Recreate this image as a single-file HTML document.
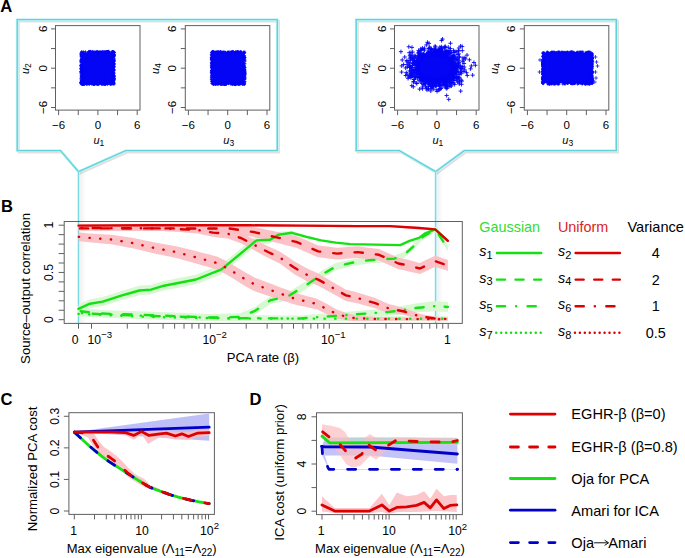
<!DOCTYPE html>
<html><head><meta charset="utf-8"><style>
html,body{margin:0;padding:0;background:#fff;}
svg{display:block;font-family:"Liberation Sans", sans-serif;}
</style></head><body>
<svg width="685" height="558" viewBox="0 0 685 558">
<defs><linearGradient id="shd" x1="0" x2="1" y1="0" y2="0"><stop offset="0" stop-color="#000" stop-opacity="0.065"/><stop offset="1" stop-color="#000" stop-opacity="0"/></linearGradient></defs>
<rect width="685" height="558" fill="#fff"/>
<text x="0.3" y="11.9" font-size="16.6" font-weight="bold" >A</text>
<text x="1" y="211.8" font-size="16.6" font-weight="bold" >B</text>
<text x="0.5" y="404.7" font-size="16.6" font-weight="bold" >C</text>
<text x="249.4" y="404.7" font-size="16.6" font-weight="bold" >D</text>
<path d="M17.2,19.6 H277.3 V150.6 H125.7 L78.5,171.7 L60.5,150.6 H17.2 Z" fill="none" stroke="#000" stroke-opacity="0.12" stroke-width="2.4" transform="translate(1.5,1.7)" stroke-linejoin="miter"/>
<path d="M17.2,19.6 H277.3 V150.6 H125.7 L78.5,171.7 L60.5,150.6 H17.2 Z" fill="none" stroke="#c8f4f7" stroke-width="2.8" stroke-linejoin="miter"/>
<path d="M17.2,19.6 H277.3 V150.6 H125.7 L78.5,171.7 L60.5,150.6 H17.2 Z" fill="none" stroke="#5fd2da" stroke-width="1.4" stroke-linejoin="miter"/>
<rect x="79.1" y="171.7" width="7" height="151.5" fill="url(#shd)"/>
<line x1="78.5" y1="171.7" x2="78.5" y2="323.2" stroke="#d0f5f8" stroke-width="2.4" />
<line x1="78.5" y1="171.7" x2="78.5" y2="323.2" stroke="#78d8e2" stroke-width="1.1" />
<rect x="55.5" y="25.6" width="84.5" height="84.5" fill="none" stroke="#606060" stroke-width="1"/>
<line x1="58.6" y1="110.1" x2="58.6" y2="115.1" stroke="#606060" stroke-width="1" />
<line x1="51" y1="107.5" x2="55.5" y2="107.5" stroke="#606060" stroke-width="1" />
<line x1="78.25" y1="110.1" x2="78.25" y2="115.1" stroke="#606060" stroke-width="1" />
<line x1="51" y1="87.85" x2="55.5" y2="87.85" stroke="#606060" stroke-width="1" />
<line x1="97.9" y1="110.1" x2="97.9" y2="115.1" stroke="#606060" stroke-width="1" />
<line x1="51" y1="68.2" x2="55.5" y2="68.2" stroke="#606060" stroke-width="1" />
<line x1="117.55" y1="110.1" x2="117.55" y2="115.1" stroke="#606060" stroke-width="1" />
<line x1="51" y1="48.55" x2="55.5" y2="48.55" stroke="#606060" stroke-width="1" />
<line x1="137.2" y1="110.1" x2="137.2" y2="115.1" stroke="#606060" stroke-width="1" />
<line x1="51" y1="28.9" x2="55.5" y2="28.9" stroke="#606060" stroke-width="1" />
<text x="58.6" y="128.5" font-size="11.5" text-anchor="middle" >&#8722;6</text>
<text transform="translate(46.6,107.5) rotate(-90)" font-size="11.5" text-anchor="middle" >&#8722;6</text>
<text x="97.9" y="128.5" font-size="11.5" text-anchor="middle" >0</text>
<text transform="translate(46.6,68.2) rotate(-90)" font-size="11.5" text-anchor="middle" >0</text>
<text x="137.2" y="128.5" font-size="11.5" text-anchor="middle" >6</text>
<text transform="translate(46.6,28.9) rotate(-90)" font-size="11.5" text-anchor="middle" >6</text>
<text x="98.9" y="143.5" font-size="11" font-style="italic" text-anchor="middle">u<tspan font-style="normal" font-size="8.5" dy="2.2">1</tspan></text>
<text transform="translate(29.1,68.7) rotate(-90)" font-size="11" font-style="italic" text-anchor="middle">u<tspan font-style="normal" font-size="8.5" dy="2.2">2</tspan></text>
<rect x="81.8" y="52.5" width="31.6" height="31" fill="#0505f5"/>
<path d="M79.67 82.33h3M81.17 80.83v3M82.16 52.04h3M83.66 50.54v3M80.29 70.65h3M81.79 69.15v3M81.02 83.92h3M82.52 82.42v3M87.65 52.06h3M89.15 50.56v3M106.76 51.55h3M108.26 50.05v3M100.36 84.1h3M101.86 82.6v3M98.61 51.88h3M100.11 50.38v3M81.32 84.43h3M82.82 82.93v3M79.85 65.41h3M81.35 63.91v3M80.02 69.93h3M81.52 68.43v3M98.76 52.17h3M100.26 50.67v3M80.05 55.12h3M81.55 53.62v3M99.98 52h3M101.48 50.5v3M112.36 76.87h3M113.86 75.37v3M112.1 63.57h3M113.6 62.07v3M102.59 83.69h3M104.09 82.19v3M80.25 68.81h3M81.75 67.31v3M112.98 61.21h3M114.48 59.71v3M96.49 51.6h3M97.99 50.1v3M79.79 56.86h3M81.29 55.36v3M111.16 51.49h3M112.66 49.99v3M79.62 62.88h3M81.12 61.38v3M112.35 70.56h3M113.85 69.06v3M110.6 51.97h3M112.1 50.47v3M81.78 52.24h3M83.28 50.74v3M112.26 61.11h3M113.76 59.61v3M79.75 52.72h3M81.25 51.22v3M99.72 83.99h3M101.22 82.49v3M104.84 83.56h3M106.34 82.06v3M92.77 84.5h3M94.27 83v3M112.34 54.58h3M113.84 53.08v3M80.18 80.27h3M81.68 78.77v3M80.38 74.6h3M81.88 73.1v3M111.98 82.65h3M113.48 81.15v3M84.73 84.19h3M86.23 82.69v3M95.61 52.11h3M97.11 50.61v3M79.37 61.02h3M80.87 59.52v3M79.58 71.51h3M81.08 70.01v3M102.31 84.02h3M103.81 82.52v3M94.69 52.45h3M96.19 50.95v3M112.27 64.74h3M113.77 63.24v3M111.87 72.3h3M113.37 70.8v3M111.9 51.93h3M113.4 50.43v3M90.89 51.46h3M92.39 49.96v3M98.28 52.04h3M99.78 50.54v3M79.28 71.64h3M80.78 70.14v3M99.82 83.58h3M101.32 82.08v3M79.92 82.57h3M81.42 81.07v3M112.82 55.93h3M114.32 54.43v3M112.17 67.37h3M113.67 65.87v3M83.13 83.81h3M84.63 82.31v3M80.03 67.32h3M81.53 65.82v3M86.49 52.54h3M87.99 51.04v3M79.85 56.69h3M81.35 55.19v3M104.52 51.76h3M106.02 50.26v3M102.5 51.71h3M104 50.21v3M79.63 81.06h3M81.13 79.56v3M97.16 84.33h3M98.66 82.83v3M79.94 72.37h3M81.44 70.87v3M106.08 84.38h3M107.58 82.88v3M86.32 83.99h3M87.82 82.49v3M112.06 52.35h3M113.56 50.85v3M112.63 60.29h3M114.13 58.79v3M80.32 66.31h3M81.82 64.81v3M79.64 82.56h3M81.14 81.06v3M83.13 83.96h3M84.63 82.46v3M79.95 58.54h3M81.45 57.04v3M95.43 52.18h3M96.93 50.68v3M107.01 51.54h3M108.51 50.04v3M112.7 77.03h3M114.2 75.53v3M112.32 80.45h3M113.82 78.95v3M80.34 54.78h3M81.84 53.28v3M112.69 66.82h3M114.19 65.32v3M103.43 51.6h3M104.93 50.1v3M80.7 84.11h3M82.2 82.61v3M111.98 77.81h3M113.48 76.31v3M112.22 73.03h3M113.72 71.53v3M80.5 84.36h3M82 82.86v3M96.97 52.52h3M98.47 51.02v3M112.03 83.57h3M113.53 82.07v3M80.71 83.66h3M82.21 82.16v3M104.7 83.79h3M106.2 82.29v3M111.87 78.69h3M113.37 77.19v3M79.99 80.73h3M81.49 79.23v3M112.85 78.47h3M114.35 76.97v3M97.14 84.03h3M98.64 82.53v3M108.25 52.33h3M109.75 50.83v3M105.1 51.58h3M106.6 50.08v3M95.24 84.27h3M96.74 82.77v3M90.43 52.02h3M91.93 50.52v3M111.93 77.1h3M113.43 75.6v3M87.9 51.73h3M89.4 50.23v3M96.35 52.07h3M97.85 50.57v3M94.25 52.14h3M95.75 50.64v3M102.38 83.94h3M103.88 82.44v3M112.1 68.25h3M113.6 66.75v3M80.27 81.53h3M81.77 80.03v3M107.18 83.56h3M108.68 82.06v3M92.59 51.78h3M94.09 50.28v3M93.76 83.66h3M95.26 82.16v3M80.28 77.09h3M81.78 75.59v3M110.43 84.17h3M111.93 82.67v3M80.26 56.58h3M81.76 55.08v3M112.94 59.03h3M114.44 57.53v3M112 80.32h3M113.5 78.82v3M85.06 83.92h3M86.56 82.42v3M112.03 62.85h3M113.53 61.35v3M79.64 54.95h3M81.14 53.45v3M79.73 69.73h3M81.23 68.23v3M92.33 52.02h3M93.83 50.52v3M79.28 68.39h3M80.78 66.89v3M111.48 83.53h3M112.98 82.03v3M80.29 60.7h3M81.79 59.2v3M88.62 83.56h3M90.12 82.06v3M112.61 79.19h3M114.11 77.69v3M79.84 64.99h3M81.34 63.49v3M111.91 74.41h3M113.41 72.91v3M105.87 51.62h3M107.37 50.12v3M88.57 51.42h3M90.07 49.92v3M105.93 51.5h3M107.43 50v3M81.97 84.44h3M83.47 82.94v3M112.99 52.37h3M114.49 50.87v3M112.12 81.65h3M113.62 80.15v3M81.21 84.25h3M82.71 82.75v3M111.4 51.71h3M112.9 50.21v3M86.38 83.77h3M87.88 82.27v3M79.45 68.99h3M80.95 67.49v3M112.01 68h3M113.51 66.5v3M80.39 77.72h3M81.89 76.22v3M80.3 52.28h3M81.8 50.78v3M96.56 83.69h3M98.06 82.19v3M112.78 55.4h3M114.28 53.9v3M112.46 73.01h3M113.96 71.51v3M112.17 83.05h3M113.67 81.55v3M111.83 83.81h3M113.33 82.31v3M92.99 83.82h3M94.49 82.32v3M107.09 51.42h3M108.59 49.92v3M79.27 65.78h3M80.77 64.28v3M112.6 79.86h3M114.1 78.36v3M80.03 71.16h3M81.53 69.66v3M94.78 51.59h3M96.28 50.09v3M112.24 52.12h3M113.74 50.62v3M79.86 83.12h3M81.36 81.62v3M80.92 84.46h3M82.42 82.96v3M91.42 83.4h3M92.92 81.9v3M112.13 54.68h3M113.63 53.18v3M87.89 84.33h3M89.39 82.83v3M88.41 51.51h3M89.91 50.01v3M112.27 70.78h3M113.77 69.28v3M79.48 61.74h3M80.98 60.24v3M101.24 84.26h3M102.74 82.76v3M112.66 76.46h3M114.16 74.96v3M112.67 56.78h3M114.17 55.28v3M81.23 84.4h3M82.73 82.9v3M112.77 75.48h3M114.27 73.98v3M109.46 84.3h3M110.96 82.8v3M106.74 52.1h3M108.24 50.6v3M82.57 83.45h3M84.07 81.95v3M79.65 82.7h3M81.15 81.2v3M112.55 69.87h3M114.05 68.37v3M95.75 83.4h3M97.25 81.9v3M104.19 52h3M105.69 50.5v3M101.29 51.48h3M102.79 49.98v3M111.89 60.07h3M113.39 58.57v3M80.11 59.51h3M81.61 58.01v3M103.92 84.57h3M105.42 83.07v3M111.89 79.06h3M113.39 77.56v3M79.94 76.54h3M81.44 75.04v3M82.33 83.58h3M83.83 82.08v3M80.03 72.85h3M81.53 71.35v3M80.21 83.47h3M81.71 81.97v3M79.32 83.12h3M80.82 81.62v3M101.83 83.75h3M103.33 82.25v3M79.76 66.87h3M81.26 65.37v3M112.18 52.06h3M113.68 50.56v3M80.32 83.3h3M81.82 81.8v3M89.24 51.49h3M90.74 49.99v3M112.26 83.81h3M113.76 82.31v3M82.23 83.51h3M83.73 82.01v3M79.36 82.49h3M80.86 80.99v3M80.04 80.38h3M81.54 78.88v3M96.03 84.45h3M97.53 82.95v3M111.8 52.79h3M113.3 51.29v3M112.29 73.81h3M113.79 72.31v3M93.37 83.85h3M94.87 82.35v3M107.19 51.4h3M108.69 49.9v3M79.34 78.85h3M80.84 77.35v3M103.04 84.48h3M104.54 82.98v3M79.28 60.1h3M80.78 58.6v3M112.51 83.96h3M114.01 82.46v3M80.11 81.61h3M81.61 80.11v3M88.95 51.46h3M90.45 49.96v3M79.38 72.32h3M80.88 70.82v3M79.58 65.96h3M81.08 64.46v3M79.71 77.12h3M81.21 75.62v3M106.27 52.16h3M107.77 50.66v3M103.26 83.46h3M104.76 81.96v3M112.7 66.43h3M114.2 64.93v3M80.29 67.54h3M81.79 66.04v3M85.37 83.9h3M86.87 82.4v3M80.09 61.53h3M81.59 60.03v3M79.49 65h3M80.99 63.5v3M112.27 69.83h3M113.77 68.33v3M100.77 83.49h3M102.27 81.99v3M112.34 69.61h3M113.84 68.11v3M79.74 83.89h3M81.24 82.39v3M97.66 83.69h3M99.16 82.19v3M90.95 83.51h3M92.45 82.01v3M91.81 84.37h3M93.31 82.87v3M108.72 84.3h3M110.22 82.8v3M112.7 64.25h3M114.2 62.75v3M92.09 83.81h3M93.59 82.31v3M96.04 52.09h3M97.54 50.59v3M79.8 56.03h3M81.3 54.53v3M82.82 84.48h3M84.32 82.98v3M112.34 64.79h3M113.84 63.29v3M80.25 79.16h3M81.75 77.66v3M83.95 51.91h3M85.45 50.41v3M112.39 82.99h3M113.89 81.49v3M92.56 52.51h3M94.06 51.01v3M112.1 83.11h3M113.6 81.61v3M87.1 51.58h3M88.6 50.08v3M110.49 52.27h3M111.99 50.77v3M112.73 54.72h3M114.23 53.22v3M105.3 51.68h3M106.8 50.18v3M100.84 51.76h3M102.34 50.26v3M100.22 84.03h3M101.72 82.53v3M111.93 74.35h3M113.43 72.85v3M89.59 52.53h3M91.09 51.03v3M92.45 83.67h3M93.95 82.17v3M80.14 51.76h3M81.64 50.26v3M112.18 60.92h3M113.68 59.42v3M95.29 83.68h3M96.79 82.18v3M80.75 83.89h3M82.25 82.39v3M79.43 53.77h3M80.93 52.27v3M112.07 54.59h3M113.57 53.09v3M112.07 81.61h3M113.57 80.11v3M102.48 52.26h3M103.98 50.76v3M79.44 73.84h3M80.94 72.34v3M79.81 75.65h3M81.31 74.15v3M95.96 83.64h3M97.46 82.14v3M87.32 83.67h3M88.82 82.17v3M79.95 55.49h3M81.45 53.99v3M109.03 83.98h3M110.53 82.48v3M110.73 51.58h3M112.23 50.08v3M111.83 53.74h3M113.33 52.24v3M93.34 84.25h3M94.84 82.75v3M92.62 84.48h3M94.12 82.98v3M80.4 75.45h3M81.9 73.95v3M90.53 83.62h3M92.03 82.12v3M112.6 53.02h3M114.1 51.52v3M112.98 78.85h3M114.48 77.35v3M111.8 57.42h3M113.3 55.92v3M79.7 54.58h3M81.2 53.08v3M98.09 52.31h3M99.59 50.81v3M112.79 63.41h3M114.29 61.91v3M112.65 54.81h3M114.15 53.31v3M91.95 84.5h3M93.45 83v3M90.34 84.28h3M91.84 82.78v3" stroke="#0505f5" stroke-width="0.9" fill="none"/>
<rect x="185.3" y="25.6" width="84.5" height="84.5" fill="none" stroke="#606060" stroke-width="1"/>
<line x1="188.4" y1="110.1" x2="188.4" y2="115.1" stroke="#606060" stroke-width="1" />
<line x1="180.8" y1="107.5" x2="185.3" y2="107.5" stroke="#606060" stroke-width="1" />
<line x1="208.05" y1="110.1" x2="208.05" y2="115.1" stroke="#606060" stroke-width="1" />
<line x1="180.8" y1="87.85" x2="185.3" y2="87.85" stroke="#606060" stroke-width="1" />
<line x1="227.7" y1="110.1" x2="227.7" y2="115.1" stroke="#606060" stroke-width="1" />
<line x1="180.8" y1="68.2" x2="185.3" y2="68.2" stroke="#606060" stroke-width="1" />
<line x1="247.35" y1="110.1" x2="247.35" y2="115.1" stroke="#606060" stroke-width="1" />
<line x1="180.8" y1="48.55" x2="185.3" y2="48.55" stroke="#606060" stroke-width="1" />
<line x1="267" y1="110.1" x2="267" y2="115.1" stroke="#606060" stroke-width="1" />
<line x1="180.8" y1="28.9" x2="185.3" y2="28.9" stroke="#606060" stroke-width="1" />
<text x="188.4" y="128.5" font-size="11.5" text-anchor="middle" >&#8722;6</text>
<text transform="translate(176.4,107.5) rotate(-90)" font-size="11.5" text-anchor="middle" >&#8722;6</text>
<text x="227.7" y="128.5" font-size="11.5" text-anchor="middle" >0</text>
<text transform="translate(176.4,68.2) rotate(-90)" font-size="11.5" text-anchor="middle" >0</text>
<text x="267" y="128.5" font-size="11.5" text-anchor="middle" >6</text>
<text transform="translate(176.4,28.9) rotate(-90)" font-size="11.5" text-anchor="middle" >6</text>
<text x="228.7" y="143.5" font-size="11" font-style="italic" text-anchor="middle">u<tspan font-style="normal" font-size="8.5" dy="2.2">3</tspan></text>
<text transform="translate(158.9,68.7) rotate(-90)" font-size="11" font-style="italic" text-anchor="middle">u<tspan font-style="normal" font-size="8.5" dy="2.2">4</tspan></text>
<rect x="212.4" y="52.6" width="31.6" height="30.9" fill="#0505f5"/>
<path d="M242.89 53.07h3M244.39 51.57v3M242.44 53.4h3M243.94 51.9v3M236.59 51.57h3M238.09 50.07v3M234.76 84.48h3M236.26 82.98v3M210.2 63.68h3M211.7 62.18v3M218.95 52.36h3M220.45 50.86v3M210.16 81.58h3M211.66 80.08v3M211.19 51.78h3M212.69 50.28v3M242.96 74.93h3M244.46 73.43v3M243.5 77.29h3M245 75.79v3M243 56.33h3M244.5 54.83v3M236.56 52.39h3M238.06 50.89v3M230.2 83.79h3M231.7 82.29v3M210.74 66.8h3M212.24 65.3v3M227.09 51.97h3M228.59 50.47v3M218.46 83.48h3M219.96 81.98v3M226.1 52.15h3M227.6 50.65v3M242.36 84.46h3M243.86 82.96v3M219.04 51.6h3M220.54 50.1v3M224.13 52.69h3M225.63 51.19v3M242.56 57.62h3M244.06 56.12v3M243.21 71.89h3M244.71 70.39v3M235.82 51.85h3M237.32 50.35v3M210.25 70.18h3M211.75 68.68v3M210.1 58.45h3M211.6 56.95v3M218.08 83.74h3M219.58 82.24v3M221.04 83.88h3M222.54 82.38v3M226.94 83.68h3M228.44 82.18v3M231.7 52.69h3M233.2 51.19v3M210.55 52.56h3M212.05 51.06v3M237.8 84.5h3M239.3 83v3M238.99 51.78h3M240.49 50.28v3M216.58 52.67h3M218.08 51.17v3M240.72 83.85h3M242.22 82.35v3M225.04 83.71h3M226.54 82.21v3M213.85 52.22h3M215.35 50.72v3M210.24 59.04h3M211.74 57.54v3M211.84 84.6h3M213.34 83.1v3M229.94 52.28h3M231.44 50.78v3M236.96 84.38h3M238.46 82.88v3M242.62 73.74h3M244.12 72.24v3M209.84 54.59h3M211.34 53.09v3M242.48 69.58h3M243.98 68.08v3M236.34 52.3h3M237.84 50.8v3M231.24 83.51h3M232.74 82.01v3M223.37 83.73h3M224.87 82.23v3M210.3 73.4h3M211.8 71.9v3M220.58 52.18h3M222.08 50.68v3M209.82 65.31h3M211.32 63.81v3M210.27 72.66h3M211.77 71.16v3M242.41 58.6h3M243.91 57.1v3M224.21 84.38h3M225.71 82.88v3M242.84 70.53h3M244.34 69.03v3M214.64 83.46h3M216.14 81.96v3M231.29 84.49h3M232.79 82.99v3M229.08 52.61h3M230.58 51.11v3M215.16 83.74h3M216.66 82.24v3M240.57 83.53h3M242.07 82.03v3M243.35 76.14h3M244.85 74.64v3M220.23 84.4h3M221.73 82.9v3M242.2 52.08h3M243.7 50.58v3M230.21 52.26h3M231.71 50.76v3M239.88 52.24h3M241.38 50.74v3M231.27 84.43h3M232.77 82.93v3M242.64 71.71h3M244.14 70.21v3M242.66 57.94h3M244.16 56.44v3M242.59 82.04h3M244.09 80.54v3M210.1 56.03h3M211.6 54.53v3M211.74 84.07h3M213.24 82.57v3M232.17 51.89h3M233.67 50.39v3M243.06 71.22h3M244.56 69.72v3M210.17 72.8h3M211.67 71.3v3M224.28 84.19h3M225.78 82.69v3M242.61 68.16h3M244.11 66.66v3M230.58 52.09h3M232.08 50.59v3M224.97 84.14h3M226.47 82.64v3M243.37 78.79h3M244.87 77.29v3M242.55 55.52h3M244.05 54.02v3M243.36 63.75h3M244.86 62.25v3M211.73 51.66h3M213.23 50.16v3M210.41 76.91h3M211.91 75.41v3M234.92 52.57h3M236.42 51.07v3M211.24 83.48h3M212.74 81.98v3M216.71 52.68h3M218.21 51.18v3M243.37 61.28h3M244.87 59.78v3M232.77 84.27h3M234.27 82.77v3M212.54 83.82h3M214.04 82.32v3M210.88 57.16h3M212.38 55.66v3M210.35 80.97h3M211.85 79.47v3M210.9 68.12h3M212.4 66.62v3M229.7 84.14h3M231.2 82.64v3M220.8 83.44h3M222.3 81.94v3M223.55 84.16h3M225.05 82.66v3M210.87 73.78h3M212.37 72.28v3M236.22 83.72h3M237.72 82.22v3M231.14 51.93h3M232.64 50.43v3M243.1 69.81h3M244.6 68.31v3M218.62 52.14h3M220.12 50.64v3M242.85 75.64h3M244.35 74.14v3M243.09 83.7h3M244.59 82.2v3M209.9 62.65h3M211.4 61.15v3M216.16 84.29h3M217.66 82.79v3M220.06 52.12h3M221.56 50.62v3M210.98 72.49h3M212.48 70.99v3M210.7 75.48h3M212.2 73.98v3M215.27 84.14h3M216.77 82.64v3M242.84 65.42h3M244.34 63.92v3M214.7 51.77h3M216.2 50.27v3M211.13 51.5h3M212.63 50v3M210.43 61.79h3M211.93 60.29v3M223.87 83.76h3M225.37 82.26v3M217.06 84.15h3M218.56 82.65v3M242.42 57.16h3M243.92 55.66v3M233.46 83.94h3M234.96 82.44v3M231.21 52.55h3M232.71 51.05v3M210.12 64.92h3M211.62 63.42v3M212.23 52.49h3M213.73 50.99v3M210.49 71.07h3M211.99 69.57v3M243.48 60.03h3M244.98 58.53v3M212.41 51.53h3M213.91 50.03v3M218.15 83.47h3M219.65 81.97v3M210.8 52.16h3M212.3 50.66v3M215.04 83.64h3M216.54 82.14v3M242.61 78.05h3M244.11 76.55v3M210.55 54.13h3M212.05 52.63v3M242.41 74.92h3M243.91 73.42v3M242.96 75.87h3M244.46 74.37v3M243.6 57.69h3M245.1 56.19v3M209.85 59.51h3M211.35 58.01v3M210.91 80.53h3M212.41 79.03v3M210.12 74.8h3M211.62 73.3v3M243.5 73.97h3M245 72.47v3M210.91 61.53h3M212.41 60.03v3M213.18 84.01h3M214.68 82.51v3M218.89 83.68h3M220.39 82.18v3M241.2 84.3h3M242.7 82.8v3M210.27 58.22h3M211.77 56.72v3M222.77 84.42h3M224.27 82.92v3M243.04 67.16h3M244.54 65.66v3M238.36 52.02h3M239.86 50.52v3M228.99 83.77h3M230.49 82.27v3M223.16 84.1h3M224.66 82.6v3M215.11 83.43h3M216.61 81.93v3M230.68 51.69h3M232.18 50.19v3M233.24 83.44h3M234.74 81.94v3M232.98 84.16h3M234.48 82.66v3M234.42 51.58h3M235.92 50.08v3M210.95 58.46h3M212.45 56.96v3M239.08 52.41h3M240.58 50.91v3M242.65 55.52h3M244.15 54.02v3M211.5 52.64h3M213 51.14v3M237.3 52.26h3M238.8 50.76v3M209.96 67.32h3M211.46 65.82v3M220 83.8h3M221.5 82.3v3M210.11 52.77h3M211.61 51.27v3M210.71 53.64h3M212.21 52.14v3M210.52 76.64h3M212.02 75.14v3M243.14 79.26h3M244.64 77.76v3M236.12 51.54h3M237.62 50.04v3M221.71 52.35h3M223.21 50.85v3M233.69 84.39h3M235.19 82.89v3M209.8 57.53h3M211.3 56.03v3M219.8 84.3h3M221.3 82.8v3M210.54 52.09h3M212.04 50.59v3M243.39 74.28h3M244.89 72.78v3M243.55 71h3M245.05 69.5v3M209.99 70.54h3M211.49 69.04v3M240.99 83.68h3M242.49 82.18v3M213.98 84.16h3M215.48 82.66v3M226.38 52.69h3M227.88 51.19v3M230.87 51.93h3M232.37 50.43v3M243.47 81.72h3M244.97 80.22v3M224.16 52.28h3M225.66 50.78v3M210.12 58.68h3M211.62 57.18v3M222.77 84.46h3M224.27 82.96v3M241.17 83.55h3M242.67 82.05v3M221.76 51.89h3M223.26 50.39v3M238.7 83.94h3M240.2 82.44v3M210.33 57.51h3M211.83 56.01v3M209.95 70.58h3M211.45 69.08v3M243.24 72.6h3M244.74 71.1v3M219.12 84.31h3M220.62 82.81v3M233.98 84.57h3M235.48 83.07v3M210.22 71.33h3M211.72 69.83v3M221.1 83.63h3M222.6 82.13v3M215.77 52.29h3M217.27 50.79v3M222.93 84.58h3M224.43 83.08v3M210.32 75.49h3M211.82 73.99v3M213.96 84.49h3M215.46 82.99v3M210.27 58.69h3M211.77 57.19v3M210.81 52.53h3M212.31 51.03v3M243 74.22h3M244.5 72.72v3M209.97 66.88h3M211.47 65.38v3M242.69 52.28h3M244.19 50.78v3M243.1 74.47h3M244.6 72.97v3M243.2 79.09h3M244.7 77.59v3M232.55 84.17h3M234.05 82.67v3M242.71 65.9h3M244.21 64.4v3M239.57 51.79h3M241.07 50.29v3M243.16 74.85h3M244.66 73.35v3M210.38 79.2h3M211.88 77.7v3M230.66 51.99h3M232.16 50.49v3M239.56 83.79h3M241.06 82.29v3M223.07 52.09h3M224.57 50.59v3M211.64 52.15h3M213.14 50.65v3M233.75 84.54h3M235.25 83.04v3M227.33 83.52h3M228.83 82.02v3M243.26 69.36h3M244.76 67.86v3M231.24 52.49h3M232.74 50.99v3M210.94 65.19h3M212.44 63.69v3M242.68 83.62h3M244.18 82.12v3M234.17 52.24h3M235.67 50.74v3M218.63 51.96h3M220.13 50.46v3M210.83 52h3M212.33 50.5v3M243.21 72.15h3M244.71 70.65v3M210.16 55.59h3M211.66 54.09v3M243.03 82.08h3M244.53 80.58v3M242.81 84.55h3M244.31 83.05v3M242.56 58.86h3M244.06 57.36v3M236.79 52.26h3M238.29 50.76v3M243.26 72.59h3M244.76 71.09v3M221.91 84.17h3M223.41 82.67v3M242.75 67.03h3M244.25 65.53v3M235.82 83.96h3M237.32 82.46v3M219.12 83.85h3M220.62 82.35v3M210.61 83.45h3M212.11 81.95v3M243.27 52.19h3M244.77 50.69v3M210.59 63.52h3M212.09 62.02v3M210.31 67.4h3M211.81 65.9v3M231.89 51.93h3M233.39 50.43v3M209.87 79.36h3M211.37 77.86v3M209.97 77.11h3M211.47 75.61v3M209.82 72.3h3M211.32 70.8v3M217.24 51.59h3M218.74 50.09v3M209.92 60.08h3M211.42 58.58v3M238.25 83.62h3M239.75 82.12v3M242.58 63.15h3M244.08 61.65v3M242.6 77.35h3M244.1 75.85v3M232.19 52.57h3M233.69 51.07v3M210.63 58.4h3M212.13 56.9v3M234.59 52.03h3M236.09 50.53v3M228.5 51.82h3M230 50.32v3M237.36 83.97h3M238.86 82.47v3M226.19 52.59h3M227.69 51.09v3M242.6 59.97h3M244.1 58.47v3M215.63 51.88h3M217.13 50.38v3M243.41 73.32h3M244.91 71.82v3M211 65.68h3M212.5 64.18v3M216.28 51.93h3M217.78 50.43v3M211.07 51.56h3M212.57 50.06v3M209.91 77.89h3M211.41 76.39v3M243.48 67.56h3M244.98 66.06v3M217.36 52h3M218.86 50.5v3M221.44 84.43h3M222.94 82.93v3M210.73 62.99h3M212.23 61.49v3M219.66 83.81h3M221.16 82.31v3M210.79 69.77h3M212.29 68.27v3M210.39 63.43h3M211.89 61.93v3M210.13 68.17h3M211.63 66.67v3M210.59 83.2h3M212.09 81.7v3" stroke="#0505f5" stroke-width="0.9" fill="none"/>
<path d="M356.2,19.6 H616.3 V150.6 H464.2 L435.6,171.7 L399.4,150.6 H356.2 Z" fill="none" stroke="#000" stroke-opacity="0.12" stroke-width="2.4" transform="translate(1.5,1.7)" stroke-linejoin="miter"/>
<path d="M356.2,19.6 H616.3 V150.6 H464.2 L435.6,171.7 L399.4,150.6 H356.2 Z" fill="none" stroke="#c8f4f7" stroke-width="2.8" stroke-linejoin="miter"/>
<path d="M356.2,19.6 H616.3 V150.6 H464.2 L435.6,171.7 L399.4,150.6 H356.2 Z" fill="none" stroke="#5fd2da" stroke-width="1.4" stroke-linejoin="miter"/>
<rect x="436.2" y="171.7" width="7" height="151.5" fill="url(#shd)"/>
<line x1="435.6" y1="171.7" x2="435.6" y2="323.2" stroke="#d0f5f8" stroke-width="2.4" />
<line x1="435.6" y1="171.7" x2="435.6" y2="323.2" stroke="#78d8e2" stroke-width="1.1" />
<rect x="394.5" y="25.6" width="84.5" height="84.5" fill="none" stroke="#606060" stroke-width="1"/>
<line x1="397.6" y1="110.1" x2="397.6" y2="115.1" stroke="#606060" stroke-width="1" />
<line x1="390" y1="107.5" x2="394.5" y2="107.5" stroke="#606060" stroke-width="1" />
<line x1="417.25" y1="110.1" x2="417.25" y2="115.1" stroke="#606060" stroke-width="1" />
<line x1="390" y1="87.85" x2="394.5" y2="87.85" stroke="#606060" stroke-width="1" />
<line x1="436.9" y1="110.1" x2="436.9" y2="115.1" stroke="#606060" stroke-width="1" />
<line x1="390" y1="68.2" x2="394.5" y2="68.2" stroke="#606060" stroke-width="1" />
<line x1="456.55" y1="110.1" x2="456.55" y2="115.1" stroke="#606060" stroke-width="1" />
<line x1="390" y1="48.55" x2="394.5" y2="48.55" stroke="#606060" stroke-width="1" />
<line x1="476.2" y1="110.1" x2="476.2" y2="115.1" stroke="#606060" stroke-width="1" />
<line x1="390" y1="28.9" x2="394.5" y2="28.9" stroke="#606060" stroke-width="1" />
<text x="397.6" y="128.5" font-size="11.5" text-anchor="middle" >&#8722;6</text>
<text transform="translate(385.6,107.5) rotate(-90)" font-size="11.5" text-anchor="middle" >&#8722;6</text>
<text x="436.9" y="128.5" font-size="11.5" text-anchor="middle" >0</text>
<text transform="translate(385.6,68.2) rotate(-90)" font-size="11.5" text-anchor="middle" >0</text>
<text x="476.2" y="128.5" font-size="11.5" text-anchor="middle" >6</text>
<text transform="translate(385.6,28.9) rotate(-90)" font-size="11.5" text-anchor="middle" >6</text>
<text x="437.9" y="143.5" font-size="11" font-style="italic" text-anchor="middle">u<tspan font-style="normal" font-size="8.5" dy="2.2">1</tspan></text>
<text transform="translate(368.1,68.7) rotate(-90)" font-size="11" font-style="italic" text-anchor="middle">u<tspan font-style="normal" font-size="8.5" dy="2.2">2</tspan></text>
<ellipse cx="435.5" cy="67" rx="19.5" ry="13.5" fill="#0505f5"/>
<path d="M429.38 49.36h4.2M431.48 47.26v4.2M442.79 85.03h4.2M444.89 82.93v4.2M439.42 48.7h4.2M441.52 46.6v4.2M421.2 57.5h4.2M423.3 55.4v4.2M419.35 59.6h4.2M421.45 57.5v4.2M437.31 79.4h4.2M439.41 77.3v4.2M414.9 70.82h4.2M417 68.72v4.2M452.38 70.42h4.2M454.48 68.32v4.2M419.12 78.74h4.2M421.22 76.64v4.2M448.52 77.65h4.2M450.62 75.55v4.2M410.87 58.22h4.2M412.97 56.12v4.2M462.77 57.78h4.2M464.87 55.68v4.2M451.3 68.53h4.2M453.4 66.43v4.2M434.29 80.97h4.2M436.39 78.87v4.2M436.09 53.56h4.2M438.19 51.46v4.2M444.65 56.03h4.2M446.75 53.93v4.2M450.91 63.96h4.2M453.01 61.86v4.2M421.23 54.13h4.2M423.33 52.03v4.2M439.54 46.83h4.2M441.64 44.73v4.2M450.78 64.82h4.2M452.88 62.72v4.2M408.91 52.39h4.2M411.01 50.29v4.2M449.7 57.52h4.2M451.8 55.42v4.2M415.61 58.8h4.2M417.71 56.7v4.2M443.71 53.38h4.2M445.81 51.28v4.2M430.11 83.6h4.2M432.21 81.5v4.2M439.42 54.76h4.2M441.52 52.66v4.2M433.43 47.07h4.2M435.53 44.97v4.2M433.54 51.77h4.2M435.64 49.67v4.2M440.16 53.13h4.2M442.26 51.03v4.2M452.15 56.21h4.2M454.25 54.11v4.2M470.57 75.14h4.2M472.67 73.04v4.2M420.04 55.79h4.2M422.14 53.69v4.2M456.02 65.96h4.2M458.12 63.86v4.2M431.97 81.91h4.2M434.07 79.81v4.2M408.96 76.34h4.2M411.06 74.24v4.2M435.66 51.2h4.2M437.76 49.1v4.2M456.84 60.85h4.2M458.94 58.75v4.2M449.17 85.84h4.2M451.27 83.74v4.2M418.81 81.88h4.2M420.91 79.78v4.2M451.18 57.75h4.2M453.28 55.65v4.2M452.39 71.4h4.2M454.49 69.3v4.2M429.31 54.99h4.2M431.41 52.89v4.2M445.03 78.39h4.2M447.13 76.29v4.2M443.98 77.13h4.2M446.08 75.03v4.2M451.3 68.08h4.2M453.4 65.98v4.2M454.16 60.04h4.2M456.26 57.94v4.2M452.98 59.85h4.2M455.08 57.75v4.2M422.16 80.53h4.2M424.26 78.43v4.2M450.15 71.75h4.2M452.25 69.65v4.2M430.54 83.31h4.2M432.64 81.21v4.2M473.31 65.28h4.2M475.41 63.18v4.2M427.5 84.75h4.2M429.6 82.65v4.2M450.42 71.89h4.2M452.52 69.79v4.2M424.94 89.96h4.2M427.04 87.86v4.2M453.79 68.57h4.2M455.89 66.47v4.2M454.75 67.2h4.2M456.85 65.1v4.2M410.52 74.5h4.2M412.62 72.4v4.2M435.68 53.55h4.2M437.78 51.45v4.2M427.98 51.84h4.2M430.08 49.74v4.2M450.21 72.6h4.2M452.31 70.5v4.2M418.26 74.51h4.2M420.36 72.41v4.2M452.78 72.35h4.2M454.88 70.25v4.2M422.33 81.21h4.2M424.43 79.11v4.2M458.09 68.83h4.2M460.19 66.73v4.2M410.73 69.55h4.2M412.83 67.45v4.2M428.81 51.55h4.2M430.91 49.45v4.2M452.96 51.7h4.2M455.06 49.6v4.2M462.72 69.92h4.2M464.82 67.82v4.2M447.79 74.59h4.2M449.89 72.49v4.2M415.98 65.08h4.2M418.08 62.98v4.2M451.61 77.45h4.2M453.71 75.35v4.2M416.6 60.7h4.2M418.7 58.6v4.2M444.23 80.81h4.2M446.33 78.71v4.2M414.42 74.88h4.2M416.52 72.78v4.2M451.66 61.63h4.2M453.76 59.53v4.2M453.67 65.17h4.2M455.77 63.07v4.2M451.12 58.77h4.2M453.22 56.67v4.2M405.13 64.64h4.2M407.23 62.54v4.2M452.53 84.47h4.2M454.63 82.37v4.2M437.82 47.06h4.2M439.92 44.96v4.2M419.62 55.37h4.2M421.72 53.27v4.2M450.96 55.13h4.2M453.06 53.03v4.2M431.72 79.89h4.2M433.82 77.79v4.2M408.03 75.54h4.2M410.13 73.44v4.2M409.96 54.99h4.2M412.06 52.89v4.2M412.69 62.28h4.2M414.79 60.18v4.2M419.88 80.67h4.2M421.98 78.57v4.2M454.3 74.1h4.2M456.4 72v4.2M437.84 88.5h4.2M439.94 86.4v4.2M445.72 54.09h4.2M447.82 51.99v4.2M415 65.43h4.2M417.1 63.33v4.2M432.59 52.49h4.2M434.69 50.39v4.2M413.83 69.34h4.2M415.93 67.24v4.2M426.94 48.56h4.2M429.04 46.46v4.2M449.33 79.48h4.2M451.43 77.38v4.2M452.64 67.4h4.2M454.74 65.3v4.2M416.2 74.42h4.2M418.3 72.32v4.2M415.92 70.6h4.2M418.02 68.5v4.2M424.71 80.6h4.2M426.81 78.5v4.2M455.03 77.15h4.2M457.13 75.05v4.2M423.66 81.81h4.2M425.76 79.71v4.2M448.41 48.53h4.2M450.51 46.43v4.2M407.99 67.32h4.2M410.09 65.22v4.2M454.66 51.77h4.2M456.76 49.67v4.2M406.71 46.78h4.2M408.81 44.68v4.2M420.42 88.68h4.2M422.52 86.58v4.2M451.82 78.67h4.2M453.92 76.57v4.2M425.68 52.18h4.2M427.78 50.08v4.2M457.01 65.9h4.2M459.11 63.8v4.2M426.11 82.57h4.2M428.21 80.47v4.2M443.95 79.1h4.2M446.05 77v4.2M452.73 68.16h4.2M454.83 66.06v4.2M425.49 79.23h4.2M427.59 77.13v4.2M458.53 72.42h4.2M460.63 70.32v4.2M450.13 57.61h4.2M452.23 55.51v4.2M419.55 75.74h4.2M421.65 73.64v4.2M445.1 88.15h4.2M447.2 86.05v4.2M430.76 83.2h4.2M432.86 81.1v4.2M443.94 53.68h4.2M446.04 51.58v4.2M445.43 76.87h4.2M447.53 74.77v4.2M431.76 85.4h4.2M433.86 83.3v4.2M438.75 83.97h4.2M440.85 81.87v4.2M413.08 77.74h4.2M415.18 75.64v4.2M437.06 49.41h4.2M439.16 47.31v4.2M426.26 55.53h4.2M428.36 53.43v4.2M423.93 55.79h4.2M426.03 53.69v4.2M433.62 83.66h4.2M435.72 81.56v4.2M449.09 59.7h4.2M451.19 57.6v4.2M427.38 78.38h4.2M429.48 76.28v4.2M442.64 81.87h4.2M444.74 79.77v4.2M417.17 61.17h4.2M419.27 59.07v4.2M454.82 67.1h4.2M456.92 65v4.2M454.77 71.5h4.2M456.87 69.4v4.2M449.55 59.68h4.2M451.65 57.58v4.2M448.32 73.82h4.2M450.42 71.72v4.2M418.68 75.84h4.2M420.78 73.74v4.2M456.48 78.14h4.2M458.58 76.04v4.2M410.24 76.12h4.2M412.34 74.02v4.2M426.76 53.85h4.2M428.86 51.75v4.2M407.54 65.53h4.2M409.64 63.43v4.2M446.71 77.47h4.2M448.81 75.37v4.2M450.34 70.63h4.2M452.44 68.53v4.2M404.82 60.47h4.2M406.92 58.37v4.2M444.98 77.19h4.2M447.08 75.09v4.2M408.48 73.82h4.2M410.58 71.72v4.2M414.71 70.54h4.2M416.81 68.44v4.2M468.49 68.82h4.2M470.59 66.72v4.2M426.91 43.42h4.2M429.01 41.32v4.2M458.73 68.01h4.2M460.83 65.91v4.2M436.71 50.74h4.2M438.81 48.64v4.2M419.27 54.32h4.2M421.37 52.22v4.2M437.99 51.18h4.2M440.09 49.08v4.2M441.84 81.73h4.2M443.94 79.63v4.2M418.91 55.52h4.2M421.01 53.42v4.2M426.64 49.05h4.2M428.74 46.95v4.2M448.5 73.34h4.2M450.6 71.24v4.2M439.98 79.84h4.2M442.08 77.74v4.2M455.06 67.29h4.2M457.16 65.19v4.2M445.61 55.07h4.2M447.71 52.97v4.2M444.65 50.47h4.2M446.75 48.37v4.2M404.21 72.63h4.2M406.31 70.53v4.2M452.41 57.65h4.2M454.51 55.55v4.2M461.9 63.48h4.2M464 61.38v4.2M418.35 56.26h4.2M420.45 54.16v4.2M408.22 57.82h4.2M410.32 55.72v4.2M439.78 79.01h4.2M441.88 76.91v4.2M443.44 83.37h4.2M445.54 81.27v4.2M429.21 52.89h4.2M431.31 50.79v4.2M459.37 84.34h4.2M461.47 82.24v4.2M447.02 86.21h4.2M449.12 84.11v4.2M415.39 61.27h4.2M417.49 59.17v4.2M446.16 78.27h4.2M448.26 76.17v4.2M427.93 79.83h4.2M430.03 77.73v4.2M412.24 75.08h4.2M414.34 72.98v4.2M416.81 54.97h4.2M418.91 52.87v4.2M410.11 59.6h4.2M412.21 57.5v4.2M434.86 54.06h4.2M436.96 51.96v4.2M420.5 77.07h4.2M422.6 74.97v4.2M450.52 62.59h4.2M452.62 60.49v4.2M413.03 72.39h4.2M415.13 70.29v4.2M447.62 80.82h4.2M449.72 78.72v4.2M443.25 47.42h4.2M445.35 45.32v4.2M447.57 55.95h4.2M449.67 53.85v4.2M440.49 55.2h4.2M442.59 53.1v4.2M445.29 80.93h4.2M447.39 78.83v4.2M415.4 77.85h4.2M417.5 75.75v4.2M443.66 77.17h4.2M445.76 75.07v4.2M467.32 59.84h4.2M469.42 57.74v4.2M436.4 49.7h4.2M438.5 47.6v4.2M435.83 54.96h4.2M437.93 52.86v4.2M429.43 82.02h4.2M431.53 79.92v4.2M452.02 52.44h4.2M454.12 50.34v4.2M434.95 52.94h4.2M437.05 50.84v4.2M426.86 79.93h4.2M428.96 77.83v4.2M408.16 60.59h4.2M410.26 58.49v4.2M419.69 83.34h4.2M421.79 81.24v4.2M409.31 68.79h4.2M411.41 66.69v4.2M431.4 80.34h4.2M433.5 78.24v4.2M439.44 80.22h4.2M441.54 78.12v4.2M451.47 74.48h4.2M453.57 72.38v4.2M410.95 62.96h4.2M413.05 60.86v4.2M417.08 52.01h4.2M419.18 49.91v4.2M433.33 54.56h4.2M435.43 52.46v4.2M419.29 74.27h4.2M421.39 72.17v4.2M459.04 68.67h4.2M461.14 66.57v4.2M402.62 57.01h4.2M404.72 54.91v4.2M445.45 78.47h4.2M447.55 76.37v4.2M450.91 75.44h4.2M453.01 73.34v4.2M424.37 79.35h4.2M426.47 77.25v4.2M432.52 80.54h4.2M434.62 78.44v4.2M435.03 52.18h4.2M437.13 50.08v4.2M426.33 80.79h4.2M428.43 78.69v4.2M422.48 54.71h4.2M424.58 52.61v4.2M411.24 86.75h4.2M413.34 84.65v4.2M436 81.32h4.2M438.1 79.22v4.2M444.53 85.54h4.2M446.63 83.44v4.2M441.54 79.63h4.2M443.64 77.53v4.2M452.68 69.71h4.2M454.78 67.61v4.2M434.9 91.41h4.2M437 89.31v4.2M422.08 79.81h4.2M424.18 77.71v4.2M457.17 56.92h4.2M459.27 54.82v4.2M438.93 80.89h4.2M441.03 78.79v4.2M448.27 53.85h4.2M450.37 51.75v4.2M431.36 81.27h4.2M433.46 79.17v4.2M437.6 50.14h4.2M439.7 48.04v4.2M442.71 82.65h4.2M444.81 80.55v4.2M441.77 78.37h4.2M443.87 76.27v4.2M449.04 60.31h4.2M451.14 58.21v4.2M456.65 50.79h4.2M458.75 48.69v4.2M437.92 54.31h4.2M440.02 52.21v4.2M408.09 67.45h4.2M410.19 65.35v4.2M456.33 63.39h4.2M458.43 61.29v4.2M416.91 63.02h4.2M419.01 60.92v4.2M456.26 65.06h4.2M458.36 62.96v4.2M458.59 91.1h4.2M460.69 89v4.2M449.61 78.04h4.2M451.71 75.94v4.2M438.63 48.62h4.2M440.73 46.52v4.2M449.96 71.05h4.2M452.06 68.95v4.2M426.06 78.07h4.2M428.16 75.97v4.2M432.87 50.15h4.2M434.97 48.05v4.2M420.6 56.69h4.2M422.7 54.59v4.2M420.49 76.36h4.2M422.59 74.26v4.2M420.5 58.58h4.2M422.6 56.48v4.2M449.63 82.34h4.2M451.73 80.24v4.2M413 64.29h4.2M415.1 62.19v4.2M419.95 54.54h4.2M422.05 52.44v4.2M451.28 56.31h4.2M453.38 54.21v4.2M443.69 53.2h4.2M445.79 51.1v4.2M420.75 79.15h4.2M422.85 77.05v4.2M439.09 53.16h4.2M441.19 51.06v4.2M443.44 77.5h4.2M445.54 75.4v4.2M441.22 79.33h4.2M443.32 77.23v4.2M434.5 83.28h4.2M436.6 81.18v4.2M415.66 74.08h4.2M417.76 71.98v4.2M421.42 77.06h4.2M423.52 74.96v4.2M421.09 54.41h4.2M423.19 52.31v4.2M410.77 57.71h4.2M412.87 55.61v4.2M444.21 88.4h4.2M446.31 86.3v4.2M450.53 73.21h4.2M452.63 71.11v4.2M409.09 67.4h4.2M411.19 65.3v4.2M412.39 70.87h4.2M414.49 68.77v4.2M441.01 55.57h4.2M443.11 53.47v4.2M415.15 62.11h4.2M417.25 60.01v4.2M449.47 74.58h4.2M451.57 72.48v4.2M425.92 54.7h4.2M428.02 52.6v4.2M398.84 51.68h4.2M400.94 49.58v4.2M442.74 51.08h4.2M444.84 48.98v4.2M432.69 84.01h4.2M434.79 81.91v4.2M425.78 83.27h4.2M427.88 81.17v4.2M440.54 50.95h4.2M442.64 48.85v4.2M419.89 78.55h4.2M421.99 76.45v4.2M441.2 85.36h4.2M443.3 83.26v4.2M428.41 51.98h4.2M430.51 49.88v4.2M454.86 72.19h4.2M456.96 70.09v4.2M444.25 84.6h4.2M446.35 82.5v4.2M414.58 61.22h4.2M416.68 59.12v4.2M438.63 82.93h4.2M440.73 80.83v4.2M448.79 82.25h4.2M450.89 80.15v4.2M449.75 75.48h4.2M451.85 73.38v4.2M447.68 59.7h4.2M449.78 57.6v4.2M447.53 82.61h4.2M449.63 80.51v4.2M423.63 81.73h4.2M425.73 79.63v4.2M445.11 79.58h4.2M447.21 77.48v4.2M415.61 70.07h4.2M417.71 67.97v4.2M449.37 77.63h4.2M451.47 75.53v4.2M451.83 80.53h4.2M453.93 78.43v4.2M460.15 66.5h4.2M462.25 64.4v4.2M422.53 78.7h4.2M424.63 76.6v4.2M407.36 67.43h4.2M409.46 65.33v4.2M450.49 56.66h4.2M452.59 54.56v4.2M437.07 86.35h4.2M439.17 84.25v4.2M421.63 75.99h4.2M423.73 73.89v4.2M445.99 52.37h4.2M448.09 50.27v4.2M452.69 76.85h4.2M454.79 74.75v4.2M427.21 84.46h4.2M429.31 82.36v4.2M437.18 53.76h4.2M439.28 51.66v4.2M407.21 52.68h4.2M409.31 50.58v4.2M425.99 52.25h4.2M428.09 50.15v4.2M422.13 80.13h4.2M424.23 78.03v4.2M408.68 71.61h4.2M410.78 69.51v4.2M460.17 68.38h4.2M462.27 66.28v4.2M431.66 54.11h4.2M433.76 52.01v4.2M471.82 62.55h4.2M473.92 60.45v4.2M413.76 67.25h4.2M415.86 65.15v4.2M449.2 59.17h4.2M451.3 57.07v4.2M417.97 55.23h4.2M420.07 53.13v4.2M448.78 86.03h4.2M450.88 83.93v4.2M424.67 54.42h4.2M426.77 52.32v4.2M447.44 79.11h4.2M449.54 77.01v4.2M456.02 59.82h4.2M458.12 57.72v4.2M432.72 50.75h4.2M434.82 48.65v4.2M414.01 73.35h4.2M416.11 71.25v4.2M438.31 50.01h4.2M440.41 47.91v4.2M424.68 87.87h4.2M426.78 85.77v4.2M406.64 62.89h4.2M408.74 60.79v4.2M455.58 82.04h4.2M457.68 79.94v4.2M447.8 59.86h4.2M449.9 57.76v4.2M437.64 52.07h4.2M439.74 49.97v4.2M422.37 48.29h4.2M424.47 46.19v4.2M415.61 57.81h4.2M417.71 55.71v4.2M449.28 77.07h4.2M451.38 74.97v4.2M431.09 80.25h4.2M433.19 78.15v4.2M429.58 88.43h4.2M431.68 86.33v4.2M405.18 67.04h4.2M407.28 64.94v4.2M399.64 65.91h4.2M401.74 63.81v4.2M441.31 82.05h4.2M443.41 79.95v4.2M412.12 61.44h4.2M414.22 59.34v4.2M454.96 59.1h4.2M457.06 57v4.2M422.43 50.21h4.2M424.53 48.11v4.2M442.11 55.76h4.2M444.21 53.66v4.2M433.56 48.89h4.2M435.66 46.79v4.2M430.91 52.81h4.2M433.01 50.71v4.2M451.61 83.13h4.2M453.71 81.03v4.2M433.13 54.68h4.2M435.23 52.58v4.2M429.71 81.31h4.2M431.81 79.21v4.2M405.95 78.36h4.2M408.05 76.26v4.2M421.27 54.49h4.2M423.37 52.39v4.2M450.7 63.89h4.2M452.8 61.79v4.2M442.61 53.42h4.2M444.71 51.32v4.2M410.37 65.23h4.2M412.47 63.13v4.2M443.1 78.99h4.2M445.2 76.89v4.2M411.52 82.06h4.2M413.62 79.96v4.2M423.52 86.21h4.2M425.62 84.11v4.2M411.52 81.59h4.2M413.62 79.49v4.2M444.37 78.81h4.2M446.47 76.71v4.2M424.36 54.38h4.2M426.46 52.28v4.2M432.21 81.75h4.2M434.31 79.65v4.2M453.85 71.13h4.2M455.95 69.03v4.2M415.36 62.68h4.2M417.46 60.58v4.2M427.71 78.59h4.2M429.81 76.49v4.2M426.45 53.13h4.2M428.55 51.03v4.2M412.25 79.57h4.2M414.35 77.47v4.2M417.43 76.73h4.2M419.53 74.63v4.2M443.43 56.76h4.2M445.53 54.66v4.2M444.57 54.45h4.2M446.67 52.35v4.2M424.44 54.31h4.2M426.54 52.21v4.2M409.24 66.93h4.2M411.34 64.83v4.2M448.39 58.58h4.2M450.49 56.48v4.2M440.45 55.78h4.2M442.55 53.68v4.2M428.39 54.14h4.2M430.49 52.04v4.2M447.5 74.18h4.2M449.6 72.08v4.2M453.49 64.56h4.2M455.59 62.46v4.2M422.26 77.29h4.2M424.36 75.19v4.2M452.8 74.2h4.2M454.9 72.1v4.2M435.94 78.96h4.2M438.04 76.86v4.2M444.35 53.76h4.2M446.45 51.66v4.2M458.53 46.02h4.2M460.63 43.92v4.2M443.02 46.32h4.2M445.12 44.22v4.2M417.56 89.11h4.2M419.66 87.01v4.2M426.12 54.69h4.2M428.22 52.59v4.2M424.24 44.96h4.2M426.34 42.86v4.2M432.99 46.07h4.2M435.09 43.97v4.2M449.25 60.36h4.2M451.35 58.26v4.2M445.23 56.6h4.2M447.33 54.5v4.2M409.88 47.4h4.2M411.98 45.3v4.2M449.84 57.79h4.2M451.94 55.69v4.2M458.25 65.88h4.2M460.35 63.78v4.2M448.35 59.67h4.2M450.45 57.57v4.2M463.27 58.87h4.2M465.37 56.77v4.2M416.48 72.4h4.2M418.58 70.3v4.2M417.98 77.46h4.2M420.08 75.36v4.2M454.65 67.93h4.2M456.75 65.83v4.2M456.22 71.84h4.2M458.32 69.74v4.2M434.42 85.68h4.2M436.52 83.58v4.2M449.93 72.69h4.2M452.03 70.59v4.2M419.72 74.54h4.2M421.82 72.44v4.2M423.17 56.34h4.2M425.27 54.24v4.2M417.88 76.49h4.2M419.98 74.39v4.2M459.08 80.07h4.2M461.18 77.97v4.2M421.1 49.49h4.2M423.2 47.39v4.2M417.07 52.24h4.2M419.17 50.14v4.2M452.29 68.65h4.2M454.39 66.55v4.2M457.55 81.04h4.2M459.65 78.94v4.2M438.86 49.43h4.2M440.96 47.33v4.2M452.06 67.68h4.2M454.16 65.58v4.2M454.42 69.44h4.2M456.52 67.34v4.2M457.19 82.06h4.2M459.29 79.96v4.2M448.59 74.75h4.2M450.69 72.65v4.2M446.27 53.47h4.2M448.37 51.37v4.2M427.17 80.79h4.2M429.27 78.69v4.2M452.56 65.02h4.2M454.66 62.92v4.2M446.51 75.65h4.2M448.61 73.55v4.2M449.28 60h4.2M451.38 57.9v4.2M440.6 48.81h4.2M442.7 46.71v4.2M442.75 55.34h4.2M444.85 53.24v4.2M403.64 75.5h4.2M405.74 73.4v4.2M418.53 50.57h4.2M420.63 48.47v4.2M435.07 50.67h4.2M437.17 48.57v4.2M452.28 66.48h4.2M454.38 64.38v4.2M436.24 84.8h4.2M438.34 82.7v4.2M435.9 52.27h4.2M438 50.17v4.2M448.88 57.23h4.2M450.98 55.13v4.2M404.86 61.82h4.2M406.96 59.72v4.2M448.21 60.22h4.2M450.31 58.12v4.2M432.25 80.61h4.2M434.35 78.51v4.2M417.47 71.98h4.2M419.57 69.88v4.2M426.58 53.74h4.2M428.68 51.64v4.2M431.66 89.16h4.2M433.76 87.06v4.2M403.56 67.9h4.2M405.66 65.8v4.2M418.87 74.12h4.2M420.97 72.02v4.2M416.24 71.71h4.2M418.34 69.61v4.2M455.1 78.2h4.2M457.2 76.1v4.2M421.69 80.59h4.2M423.79 78.49v4.2M454.24 70.1h4.2M456.34 68v4.2M436.7 83.71h4.2M438.8 81.61v4.2M438.89 54.88h4.2M440.99 52.78v4.2M442.43 84.34h4.2M444.53 82.24v4.2M442.46 77.57h4.2M444.56 75.47v4.2M459.78 81.04h4.2M461.88 78.94v4.2M419.32 76.96h4.2M421.42 74.86v4.2M410.95 70.06h4.2M413.05 67.96v4.2M407.36 70.89h4.2M409.46 68.79v4.2M436.62 80.99h4.2M438.72 78.89v4.2M412.32 60.31h4.2M414.42 58.21v4.2M455.11 63.03h4.2M457.21 60.93v4.2M454.28 80.15h4.2M456.38 78.05v4.2M444.21 82.11h4.2M446.31 80.01v4.2M430.94 86.44h4.2M433.04 84.34v4.2M415.63 70.39h4.2M417.73 68.29v4.2M457.16 83.92h4.2M459.26 81.82v4.2M415.16 69.62h4.2M417.26 67.52v4.2M442.42 47.42h4.2M444.52 45.32v4.2M432.05 50.06h4.2M434.15 47.96v4.2M416.96 80.71h4.2M419.06 78.61v4.2M413.53 56.31h4.2M415.63 54.21v4.2M437.89 82.93h4.2M439.99 80.83v4.2M446.66 99.39h4.2M448.76 97.29v4.2M412.84 58.22h4.2M414.94 56.12v4.2M451.49 50.4h4.2M453.59 48.3v4.2M430.2 87.38h4.2M432.3 85.28v4.2M426.25 88.78h4.2M428.35 86.68v4.2M411.81 63.93h4.2M413.91 61.83v4.2M439.17 55.28h4.2M441.27 53.18v4.2M434.05 79.59h4.2M436.15 77.49v4.2M416.01 59.03h4.2M418.11 56.93v4.2M456.68 53.92h4.2M458.78 51.82v4.2M440.63 79h4.2M442.73 76.9v4.2M429.25 54.99h4.2M431.35 52.89v4.2M445.5 86.64h4.2M447.6 84.54v4.2M407.62 76.14h4.2M409.72 74.04v4.2M456.95 62.59h4.2M459.05 60.49v4.2M435.42 80.94h4.2M437.52 78.84v4.2M422.8 76.79h4.2M424.9 74.69v4.2M409.94 56.84h4.2M412.04 54.74v4.2M452.15 63.57h4.2M454.25 61.47v4.2M421.69 56.94h4.2M423.79 54.84v4.2M432.64 82.96h4.2M434.74 80.86v4.2M415.7 57.06h4.2M417.8 54.96v4.2M415.66 64h4.2M417.76 61.9v4.2M425.33 42.36h4.2M427.43 40.26v4.2M460.83 57.91h4.2M462.93 55.81v4.2M438.13 53.58h4.2M440.23 51.48v4.2M443.21 85.32h4.2M445.31 83.22v4.2M443.25 77.88h4.2M445.35 75.78v4.2M419.91 76.02h4.2M422.01 73.92v4.2M436 82.23h4.2M438.1 80.13v4.2M428.05 52.02h4.2M430.15 49.92v4.2M429.3 78.89h4.2M431.4 76.79v4.2M427.16 78.75h4.2M429.26 76.65v4.2M436.28 81.61h4.2M438.38 79.51v4.2M441.74 54.92h4.2M443.84 52.82v4.2M452.83 63.08h4.2M454.93 60.98v4.2M448.62 83.21h4.2M450.72 81.11v4.2M421.72 77.36h4.2M423.82 75.26v4.2M414.2 64.28h4.2M416.3 62.18v4.2M433.13 79.78h4.2M435.23 77.68v4.2M415.75 68.96h4.2M417.85 66.86v4.2M408.94 73.46h4.2M411.04 71.36v4.2M464.37 72.64h4.2M466.47 70.54v4.2M433.48 52.24h4.2M435.58 50.14v4.2M428.83 81.28h4.2M430.93 79.18v4.2M412.44 63.76h4.2M414.54 61.66v4.2M434.76 89.95h4.2M436.86 87.85v4.2M432 48.9h4.2M434.1 46.8v4.2M429.51 53.32h4.2M431.61 51.22v4.2M399.53 72.05h4.2M401.63 69.95v4.2M446.61 80.57h4.2M448.71 78.47v4.2M443.21 51.56h4.2M445.31 49.46v4.2M455.87 54.48h4.2M457.97 52.38v4.2M423.18 81.79h4.2M425.28 79.69v4.2M417.88 53.46h4.2M419.98 51.36v4.2M451.26 59.48h4.2M453.36 57.38v4.2M451.6 66.18h4.2M453.7 64.08v4.2M434.03 51.26h4.2M436.13 49.16v4.2M433.07 79.56h4.2M435.17 77.46v4.2M417.58 78.21h4.2M419.68 76.11v4.2M422.58 80.65h4.2M424.68 78.55v4.2M421.13 80.69h4.2M423.23 78.59v4.2M446.79 52.57h4.2M448.89 50.47v4.2M450.52 82.56h4.2M452.62 80.46v4.2M432.79 54.08h4.2M434.89 51.98v4.2M437.45 52.3h4.2M439.55 50.2v4.2M453.3 69.49h4.2M455.4 67.39v4.2M450.32 72.83h4.2M452.42 70.73v4.2M416.8 75.96h4.2M418.9 73.86v4.2M417.24 53.52h4.2M419.34 51.42v4.2M409.58 70.4h4.2M411.68 68.3v4.2M445.62 58.31h4.2M447.72 56.21v4.2M414.77 83.44h4.2M416.87 81.34v4.2M441.93 53.29h4.2M444.03 51.19v4.2M432.74 51.54h4.2M434.84 49.44v4.2M437.93 84.48h4.2M440.03 82.38v4.2M420.4 76.22h4.2M422.5 74.12v4.2M414.74 61.26h4.2M416.84 59.16v4.2M443.49 84.25h4.2M445.59 82.15v4.2M415.31 62.39h4.2M417.41 60.29v4.2M452.92 56.02h4.2M455.02 53.92v4.2M423.76 78.53h4.2M425.86 76.43v4.2M417.89 59.97h4.2M419.99 57.87v4.2M433.31 53.43h4.2M435.41 51.33v4.2M446.96 50.36h4.2M449.06 48.26v4.2M459.08 73.7h4.2M461.18 71.6v4.2M451.67 73.51h4.2M453.77 71.41v4.2M449.14 72.94h4.2M451.24 70.84v4.2M423.05 77.56h4.2M425.15 75.46v4.2M455.37 67.67h4.2M457.47 65.57v4.2M416 52.91h4.2M418.1 50.81v4.2M423.8 55.04h4.2M425.9 52.94v4.2M418.72 79.54h4.2M420.82 77.44v4.2M451.45 79.18h4.2M453.55 77.08v4.2M407.91 63.05h4.2M410.01 60.95v4.2M418.04 57.44h4.2M420.14 55.34v4.2M431.8 80.93h4.2M433.9 78.83v4.2M428.77 48.44h4.2M430.87 46.34v4.2M439.98 80.37h4.2M442.08 78.27v4.2M452.53 76.65h4.2M454.63 74.55v4.2M450.97 68.84h4.2M453.07 66.74v4.2M420.34 58.86h4.2M422.44 56.76v4.2M436.73 90.17h4.2M438.83 88.07v4.2M451.07 66.57h4.2M453.17 64.47v4.2M411.14 72.32h4.2M413.24 70.22v4.2M411.91 79.54h4.2M414.01 77.44v4.2M449.32 52.25h4.2M451.42 50.15v4.2M439.78 52.7h4.2M441.88 50.6v4.2M460.7 61.66h4.2M462.8 59.56v4.2M430.5 85.48h4.2M432.6 83.38v4.2M438.62 52.38h4.2M440.72 50.28v4.2M448.37 43.26h4.2M450.47 41.16v4.2M429.38 86.23h4.2M431.48 84.13v4.2M456.01 76.88h4.2M458.11 74.78v4.2M409.8 75.83h4.2M411.9 73.73v4.2M450.11 74.77h4.2M452.21 72.67v4.2M450.69 78.41h4.2M452.79 76.31v4.2M416.41 71.95h4.2M418.51 69.85v4.2M432.64 80.91h4.2M434.74 78.81v4.2M415.34 67.53h4.2M417.44 65.43v4.2M437.04 79.22h4.2M439.14 77.12v4.2M457.1 57.07h4.2M459.2 54.97v4.2M414.91 60.19h4.2M417.01 58.09v4.2M447.21 76.7h4.2M449.31 74.6v4.2M443.86 77.25h4.2M445.96 75.15v4.2M465.21 75.46h4.2M467.31 73.36v4.2M415.45 63.41h4.2M417.55 61.31v4.2M447.62 52.38h4.2M449.72 50.28v4.2M415.74 69.65h4.2M417.84 67.55v4.2M446.96 78.95h4.2M449.06 76.85v4.2M446.83 83.99h4.2M448.93 81.89v4.2M413.83 69.47h4.2M415.93 67.37v4.2M433.37 85.99h4.2M435.47 83.89v4.2M437.83 85.41h4.2M439.93 83.31v4.2M410.57 52.09h4.2M412.67 49.99v4.2M435.52 54.97h4.2M437.62 52.87v4.2M411.67 63.53h4.2M413.77 61.43v4.2M450.92 58.97h4.2M453.02 56.87v4.2M425.66 54.07h4.2M427.76 51.97v4.2M446.18 47.27h4.2M448.28 45.17v4.2M445.75 82.26h4.2M447.85 80.16v4.2M414.1 83.11h4.2M416.2 81.01v4.2M407.76 55.91h4.2M409.86 53.81v4.2M408.03 58.93h4.2M410.13 56.83v4.2M411.71 62.4h4.2M413.81 60.3v4.2M449.25 78.07h4.2M451.35 75.97v4.2M425.05 55.59h4.2M427.15 53.49v4.2M464.9 55.1h4.2M467 53v4.2M425.61 54.77h4.2M427.71 52.67v4.2M406.72 77.1h4.2M408.82 75v4.2M420.28 87.06h4.2M422.38 84.96v4.2M418.94 74.47h4.2M421.04 72.37v4.2M452.81 73.65h4.2M454.91 71.55v4.2M418.67 48.88h4.2M420.77 46.78v4.2M469.28 65.96h4.2M471.38 63.86v4.2M443.04 78.74h4.2M445.14 76.64v4.2M434.98 81.41h4.2M437.08 79.31v4.2M434.47 83.01h4.2M436.57 80.91v4.2M423.55 79.58h4.2M425.65 77.48v4.2M436.31 79.61h4.2M438.41 77.51v4.2M407.77 66.62h4.2M409.87 64.52v4.2M422.24 83.85h4.2M424.34 81.75v4.2M449.15 78.6h4.2M451.25 76.5v4.2M448.29 75.5h4.2M450.39 73.4v4.2M441.68 78.14h4.2M443.78 76.04v4.2M453.87 77.09h4.2M455.97 74.99v4.2M448.08 73.87h4.2M450.18 71.77v4.2M431.69 79.75h4.2M433.79 77.65v4.2M400.13 59.98h4.2M402.23 57.88v4.2M439.2 79.02h4.2M441.3 76.92v4.2M412.85 67.43h4.2M414.95 65.33v4.2M426.54 86.35h4.2M428.64 84.25v4.2M445.4 76.37h4.2M447.5 74.27v4.2M429.01 51.92h4.2M431.11 49.82v4.2M430.02 49.99h4.2M432.12 47.89v4.2M445.86 57.16h4.2M447.96 55.06v4.2M460.12 46.58h4.2M462.22 44.48v4.2M423.11 84.12h4.2M425.21 82.02v4.2M438.48 50.23h4.2M440.58 48.13v4.2M408.03 55.05h4.2M410.13 52.95v4.2M416.45 50.56h4.2M418.55 48.46v4.2M430.27 81.55h4.2M432.37 79.45v4.2M427.75 52.64h4.2M429.85 50.54v4.2M418.91 74.8h4.2M421.01 72.7v4.2M433.94 53.02h4.2M436.04 50.92v4.2M436.93 54.75h4.2M439.03 52.65v4.2M461.7 71.44h4.2M463.8 69.34v4.2M453.36 63.76h4.2M455.46 61.66v4.2M449.03 76.66h4.2M451.13 74.56v4.2M415.63 68.09h4.2M417.73 65.99v4.2M450.79 56.79h4.2M452.89 54.69v4.2M452.92 59.08h4.2M455.02 56.98v4.2M422.58 81.65h4.2M424.68 79.55v4.2M440.3 80.84h4.2M442.4 78.74v4.2M448.61 52.14h4.2M450.71 50.04v4.2M452.99 70.63h4.2M455.09 68.53v4.2M419.53 56.45h4.2M421.63 54.35v4.2M418.01 77.03h4.2M420.11 74.93v4.2M429.1 79.98h4.2M431.2 77.88v4.2M401.57 64.54h4.2M403.67 62.44v4.2M457.69 77.85h4.2M459.79 75.75v4.2M408.79 77.7h4.2M410.89 75.6v4.2M442.15 77.79h4.2M444.25 75.69v4.2M438.84 88.48h4.2M440.94 86.38v4.2M426.4 55.24h4.2M428.5 53.14v4.2M422.76 56.53h4.2M424.86 54.43v4.2M432.51 79.35h4.2M434.61 77.25v4.2M427.26 79.09h4.2M429.36 76.99v4.2M405.06 74.24h4.2M407.16 72.14v4.2M440.6 55.75h4.2M442.7 53.65v4.2M459.17 71.15h4.2M461.27 69.05v4.2M451.36 64.58h4.2M453.46 62.48v4.2M430.99 83.53h4.2M433.09 81.43v4.2M442.76 81.47h4.2M444.86 79.37v4.2M441.73 55.5h4.2M443.83 53.4v4.2M411.37 63.5h4.2M413.47 61.4v4.2M440.43 84.6h4.2M442.53 82.5v4.2M454.91 58.01h4.2M457.01 55.91v4.2M456.84 48.02h4.2M458.94 45.92v4.2M414.66 72.63h4.2M416.76 70.53v4.2M428.41 86.28h4.2M430.51 84.18v4.2M440.23 54.04h4.2M442.33 51.94v4.2M416.28 55.9h4.2M418.38 53.8v4.2M444.27 77.46h4.2M446.37 75.36v4.2M414.06 70.39h4.2M416.16 68.29v4.2M432.71 50.79h4.2M434.81 48.69v4.2M433.64 80.25h4.2M435.74 78.15v4.2M439.13 87.9h4.2M441.23 85.8v4.2M433.82 52.78h4.2M435.92 50.68v4.2M431.55 54.48h4.2M433.65 52.38v4.2M447.74 82.87h4.2M449.84 80.77v4.2M430.79 79.06h4.2M432.89 76.96v4.2M447.21 77.57h4.2M449.31 75.47v4.2M427.52 83.55h4.2M429.62 81.45v4.2M437.25 54.39h4.2M439.35 52.29v4.2M420.47 48.17h4.2M422.57 46.07v4.2M452.15 70.5h4.2M454.25 68.4v4.2M437.38 81.68h4.2M439.48 79.58v4.2M427.08 80h4.2M429.18 77.9v4.2M422.64 56.67h4.2M424.74 54.57v4.2M445.51 52.26h4.2M447.61 50.16v4.2M437.73 53.63h4.2M439.83 51.53v4.2M446.99 75.35h4.2M449.09 73.25v4.2M440.48 39.06h4.2M442.58 36.96v4.2M435.88 50.9h4.2M437.98 48.8v4.2M413.6 77.06h4.2M415.7 74.96v4.2M412.25 60.93h4.2M414.35 58.83v4.2M456.28 50.78h4.2M458.38 48.68v4.2M418.72 54.79h4.2M420.82 52.69v4.2M427.86 79.91h4.2M429.96 77.81v4.2M423.08 57.18h4.2M425.18 55.08v4.2M445.06 76.24h4.2M447.16 74.14v4.2M428.8 81.8h4.2M430.9 79.7v4.2M424.25 88.38h4.2M426.35 86.28v4.2M437.49 89.43h4.2M439.59 87.33v4.2M426.3 78.16h4.2M428.4 76.06v4.2M411.57 72.52h4.2M413.67 70.42v4.2M409.59 76.18h4.2M411.69 74.08v4.2M418.15 60.03h4.2M420.25 57.93v4.2M457.07 74.54h4.2M459.17 72.44v4.2M447.07 79.1h4.2M449.17 77v4.2M434.62 83.43h4.2M436.72 81.33v4.2M451.2 71.11h4.2M453.3 69.01v4.2M455.63 78.9h4.2M457.73 76.8v4.2M449.39 72.18h4.2M451.49 70.08v4.2M418.01 59.81h4.2M420.11 57.71v4.2M413.07 76.52h4.2M415.17 74.42v4.2M428.66 90.95h4.2M430.76 88.85v4.2M460.23 50.65h4.2M462.33 48.55v4.2M444.55 95.55h4.2M446.65 93.45v4.2M421.06 54.46h4.2M423.16 52.36v4.2M443.78 87.36h4.2M445.88 85.26v4.2M421.1 76.41h4.2M423.2 74.31v4.2M432.42 54.56h4.2M434.52 52.46v4.2M461.18 60.05h4.2M463.28 57.95v4.2M439.47 40.47h4.2M441.57 38.37v4.2M412.3 70.53h4.2M414.4 68.43v4.2M434.49 81.15h4.2M436.59 79.05v4.2M427.57 47.18h4.2M429.67 45.08v4.2M445.03 51.69h4.2M447.13 49.59v4.2M431.2 82.04h4.2M433.3 79.94v4.2M419.69 78.33h4.2M421.79 76.23v4.2M445.4 53.14h4.2M447.5 51.04v4.2M462.11 67.06h4.2M464.21 64.96v4.2M426.55 89.18h4.2M428.65 87.08v4.2M409.71 85.66h4.2M411.81 83.56v4.2M428.41 51.8h4.2M430.51 49.7v4.2M412.68 55.67h4.2M414.78 53.57v4.2M421.47 84.51h4.2M423.57 82.41v4.2M424.56 78.66h4.2M426.66 76.56v4.2M419.5 49.74h4.2M421.6 47.64v4.2M414.87 70.45h4.2M416.97 68.35v4.2M418.38 56.31h4.2M420.48 54.21v4.2M433.59 80.05h4.2M435.69 77.95v4.2" stroke="#0505f5" stroke-opacity="1" stroke-width="0.9" fill="none"/>
<rect x="524.3" y="25.6" width="84.5" height="84.5" fill="none" stroke="#606060" stroke-width="1"/>
<line x1="527.4" y1="110.1" x2="527.4" y2="115.1" stroke="#606060" stroke-width="1" />
<line x1="519.8" y1="107.5" x2="524.3" y2="107.5" stroke="#606060" stroke-width="1" />
<line x1="547.05" y1="110.1" x2="547.05" y2="115.1" stroke="#606060" stroke-width="1" />
<line x1="519.8" y1="87.85" x2="524.3" y2="87.85" stroke="#606060" stroke-width="1" />
<line x1="566.7" y1="110.1" x2="566.7" y2="115.1" stroke="#606060" stroke-width="1" />
<line x1="519.8" y1="68.2" x2="524.3" y2="68.2" stroke="#606060" stroke-width="1" />
<line x1="586.35" y1="110.1" x2="586.35" y2="115.1" stroke="#606060" stroke-width="1" />
<line x1="519.8" y1="48.55" x2="524.3" y2="48.55" stroke="#606060" stroke-width="1" />
<line x1="606" y1="110.1" x2="606" y2="115.1" stroke="#606060" stroke-width="1" />
<line x1="519.8" y1="28.9" x2="524.3" y2="28.9" stroke="#606060" stroke-width="1" />
<text x="527.4" y="128.5" font-size="11.5" text-anchor="middle" >&#8722;6</text>
<text transform="translate(515.4,107.5) rotate(-90)" font-size="11.5" text-anchor="middle" >&#8722;6</text>
<text x="566.7" y="128.5" font-size="11.5" text-anchor="middle" >0</text>
<text transform="translate(515.4,68.2) rotate(-90)" font-size="11.5" text-anchor="middle" >0</text>
<text x="606" y="128.5" font-size="11.5" text-anchor="middle" >6</text>
<text transform="translate(515.4,28.9) rotate(-90)" font-size="11.5" text-anchor="middle" >6</text>
<text x="567.7" y="143.5" font-size="11" font-style="italic" text-anchor="middle">u<tspan font-style="normal" font-size="8.5" dy="2.2">3</tspan></text>
<text transform="translate(497.9,68.7) rotate(-90)" font-size="11" font-style="italic" text-anchor="middle">u<tspan font-style="normal" font-size="8.5" dy="2.2">4</tspan></text>
<rect x="543.5" y="53" width="48.1" height="30.2" fill="#0505f5"/>
<path d="M551.77 83.9h3M553.27 82.4v3M588.12 84.3h3M589.62 82.8v3M590.06 67.54h3M591.56 66.04v3M581.45 83.17h3M582.95 81.67v3M590.54 54.87h3M592.04 53.37v3M584.89 52.79h3M586.39 51.29v3M561.81 52.92h3M563.31 51.42v3M570.29 52.19h3M571.79 50.69v3M541.4 72.17h3M542.9 70.67v3M573.2 52.51h3M574.7 51.01v3M541.85 53.66h3M543.35 52.16v3M590.4 58.82h3M591.9 57.32v3M542.82 52.91h3M544.32 51.41v3M590.59 79.29h3M592.09 77.79v3M591 82.64h3M592.5 81.14v3M590.02 70.61h3M591.52 69.11v3M590.49 72.1h3M591.99 70.6v3M566.03 52.53h3M567.53 51.03v3M565.66 52.39h3M567.16 50.89v3M565.95 52.42h3M567.45 50.92v3M547.19 52.62h3M548.69 51.12v3M541.95 53.93h3M543.45 52.43v3M540.9 73.35h3M542.4 71.85v3M590.3 80.43h3M591.8 78.93v3M590.36 64.32h3M591.86 62.82v3M557.79 52.55h3M559.29 51.05v3M590.68 81h3M592.18 79.5v3M562.64 52.96h3M564.14 51.46v3M572.1 83.67h3M573.6 82.17v3M576.11 53.04h3M577.61 51.54v3M548.76 52.75h3M550.26 51.25v3M579.07 52.19h3M580.57 50.69v3M580.8 83.39h3M582.3 81.89v3M590.89 78.62h3M592.39 77.12v3M541.07 71.67h3M542.57 70.17v3M553.64 52.52h3M555.14 51.02v3M590.18 82.19h3M591.68 80.69v3M590.67 57.96h3M592.17 56.46v3M540.92 81.69h3M542.42 80.19v3M540.96 77.34h3M542.46 75.84v3M549.51 52.91h3M551.01 51.41v3M590.82 78.57h3M592.32 77.07v3M557.53 51.99h3M559.03 50.49v3M590.36 56.67h3M591.86 55.17v3M570 52.05h3M571.5 50.55v3M590.17 68.33h3M591.67 66.83v3M552.14 53.03h3M553.64 51.53v3M540.9 59.65h3M542.4 58.15v3M541.82 55.54h3M543.32 54.04v3M591 72.27h3M592.5 70.77v3M541.06 83.01h3M542.56 81.51v3M556.89 83.92h3M558.39 82.42v3M583.18 83.78h3M584.68 82.28v3M541.63 77.64h3M543.13 76.14v3M548.15 84.13h3M549.65 82.63v3M553.4 83.94h3M554.9 82.44v3M551.4 52.27h3M552.9 50.77v3M556.54 52.02h3M558.04 50.52v3M541.71 81.2h3M543.21 79.7v3M563.24 83.21h3M564.74 81.71v3M590.19 79.95h3M591.69 78.45v3M587.3 51.91h3M588.8 50.41v3M590.3 55.1h3M591.8 53.6v3M584.39 52.39h3M585.89 50.89v3M590.48 56.14h3M591.98 54.64v3M553.38 84.05h3M554.88 82.55v3M541.54 76.97h3M543.04 75.47v3M584.54 83.18h3M586.04 81.68v3M590.89 61.3h3M592.39 59.8v3M562.94 83.63h3M564.44 82.13v3M583.92 83.87h3M585.42 82.37v3M590.75 61.97h3M592.25 60.47v3M587.62 52.44h3M589.12 50.94v3M590.31 79.41h3M591.81 77.91v3M541.18 64.83h3M542.68 63.33v3M566.6 83.33h3M568.1 81.83v3M565.13 52.36h3M566.63 50.86v3M541.05 64.23h3M542.55 62.73v3M586.83 52.69h3M588.33 51.19v3M541.05 65.3h3M542.55 63.8v3M541.46 66.42h3M542.96 64.92v3M590.75 71.6h3M592.25 70.1v3M586.73 83.87h3M588.23 82.37v3M561.8 53.09h3M563.3 51.59v3M554.98 52.54h3M556.48 51.04v3M590.99 64.18h3M592.49 62.68v3M562.47 83.12h3M563.97 81.62v3M590.84 75.23h3M592.34 73.73v3M545.87 53.07h3M547.37 51.57v3M556.73 83.34h3M558.23 81.84v3M541.97 70.49h3M543.47 68.99v3M590.44 72.26h3M591.94 70.76v3M552.59 52.27h3M554.09 50.77v3M570.14 52.44h3M571.64 50.94v3M590.68 73.13h3M592.18 71.63v3M553.28 83.85h3M554.78 82.35v3M590.46 62.78h3M591.96 61.28v3M590.04 75.32h3M591.54 73.82v3M590.25 70.07h3M591.75 68.57v3M581.43 51.97h3M582.93 50.47v3M541.97 76.91h3M543.47 75.41v3M565.97 83.46h3M567.47 81.96v3M590.05 69.13h3M591.55 67.63v3M549.98 52.15h3M551.48 50.65v3M560.18 53h3M561.68 51.5v3M541.07 63.78h3M542.57 62.28v3M541.17 72.92h3M542.67 71.42v3M545.37 52.29h3M546.87 50.79v3M590.34 72.02h3M591.84 70.52v3M590.32 83.22h3M591.82 81.72v3M590.98 58.16h3M592.48 56.66v3M591.08 82.01h3M592.58 80.51v3M570.76 83.88h3M572.26 82.38v3M590.08 76.29h3M591.58 74.79v3M541.71 82.88h3M543.21 81.38v3M572.86 83.22h3M574.36 81.72v3M541.64 64.48h3M543.14 62.98v3M541.43 52.9h3M542.93 51.4v3M590.86 76.92h3M592.36 75.42v3M541.59 68.07h3M543.09 66.57v3M556.16 83.97h3M557.66 82.47v3M541.47 70h3M542.97 68.5v3M542.08 77.94h3M543.58 76.44v3M591.04 55.09h3M592.54 53.59v3M570.43 52.73h3M571.93 51.23v3M541.42 68.03h3M542.92 66.53v3M565.53 83.14h3M567.03 81.64v3M557.52 84.03h3M559.02 82.53v3M541.73 61.61h3M543.23 60.11v3M572.75 83.63h3M574.25 82.13v3M555.5 83.69h3M557 82.19v3M577.28 83.34h3M578.78 81.84v3M540.93 64.92h3M542.43 63.42v3M541.78 63.37h3M543.28 61.87v3M549.99 83.98h3M551.49 82.48v3M559.84 52.61h3M561.34 51.11v3M556.4 52.81h3M557.9 51.31v3M591.06 60.93h3M592.56 59.43v3M541.71 76.36h3M543.21 74.86v3M542.04 60.45h3M543.54 58.95v3M552.41 52.18h3M553.91 50.68v3M580.66 83.42h3M582.16 81.92v3M541.9 53.25h3M543.4 51.75v3M541.52 61.3h3M543.02 59.8v3M541.34 56.79h3M542.84 55.29v3M541.51 63.18h3M543.01 61.68v3M590.69 60.3h3M592.19 58.8v3M590.44 68.06h3M591.94 66.56v3M558.37 53h3M559.87 51.5v3M541.47 70.03h3M542.97 68.53v3M541.19 80.96h3M542.69 79.46v3M541.02 71.48h3M542.52 69.98v3M585.06 83.14h3M586.56 81.64v3M547.92 83.92h3M549.42 82.42v3M590.6 63.44h3M592.1 61.94v3M550.94 52.65h3M552.44 51.15v3M590.57 68.65h3M592.07 67.15v3M576.41 51.95h3M577.91 50.45v3M541.48 63.4h3M542.98 61.9v3M588.33 83.86h3M589.83 82.36v3M583.78 83.25h3M585.28 81.75v3M570.11 83.5h3M571.61 82v3M587.27 52.31h3M588.77 50.81v3M590.93 58.96h3M592.43 57.46v3M588.95 52.97h3M590.45 51.47v3M551.27 83.7h3M552.77 82.2v3M575.34 52.45h3M576.84 50.95v3M571 83.22h3M572.5 81.72v3M546.53 84.04h3M548.03 82.54v3M540.99 63.79h3M542.49 62.29v3M578.36 51.95h3M579.86 50.45v3M590.56 77.63h3M592.06 76.13v3M541.26 77.85h3M542.76 76.35v3M550.71 52.11h3M552.21 50.61v3M583.69 83.91h3M585.19 82.41v3M590.87 58.37h3M592.37 56.87v3M588.48 52h3M589.98 50.5v3M571.25 51.92h3M572.75 50.42v3M590.71 66.18h3M592.21 64.68v3M540.94 61.09h3M542.44 59.59v3M541.23 68.98h3M542.73 67.48v3M590.89 83.54h3M592.39 82.04v3M553.44 83.13h3M554.94 81.63v3M541.4 56.59h3M542.9 55.09v3M562.85 52.74h3M564.35 51.24v3M565.97 52.6h3M567.47 51.1v3M561.4 52.06h3M562.9 50.56v3M590.93 57.96h3M592.43 56.46v3M590.16 77.52h3M591.66 76.02v3M590.1 61.17h3M591.6 59.67v3M564.07 52.68h3M565.57 51.18v3M585.2 52.51h3M586.7 51.01v3M590.06 83.36h3M591.56 81.86v3M546.03 52.18h3M547.53 50.68v3M547.59 83.6h3M549.09 82.1v3M546.05 52.47h3M547.55 50.97v3M578.75 83.46h3M580.25 81.96v3M548.53 83.92h3M550.03 82.42v3M590.2 76.7h3M591.7 75.2v3M541.15 69.83h3M542.65 68.33v3M541.04 83.01h3M542.54 81.51v3M563.15 83.24h3M564.65 81.74v3M541.84 72.72h3M543.34 71.22v3M586.72 83.88h3M588.22 82.38v3M541.49 70.87h3M542.99 69.37v3M590.15 70.36h3M591.65 68.86v3M590.08 72.1h3M591.58 70.6v3M569.04 83.53h3M570.54 82.03v3M590.31 57.1h3M591.81 55.6v3M541.01 82.82h3M542.51 81.32v3M557.38 52.04h3M558.88 50.54v3M590.71 66.51h3M592.21 65.01v3M541.58 53.65h3M543.08 52.15v3M584.4 84.23h3M585.9 82.73v3M541.71 79.65h3M543.21 78.15v3M586.11 52.18h3M587.61 50.68v3M563.51 84.09h3M565.01 82.59v3M590.14 66.36h3M591.64 64.86v3M580.69 84.14h3M582.19 82.64v3M541.61 56.07h3M543.11 54.57v3M591.16 81.05h3M592.66 79.55v3M590.08 75.33h3M591.58 73.83v3M590.57 73.27h3M592.07 71.77v3M546.39 83.81h3M547.89 82.31v3M590.6 65.26h3M592.1 63.76v3M570.35 52.43h3M571.85 50.93v3M569.63 83.49h3M571.13 81.99v3M591.01 71.59h3M592.51 70.09v3M541.77 82.67h3M543.27 81.17v3M557.58 52.63h3M559.08 51.13v3M553.8 53.02h3M555.3 51.52v3M572.83 83.51h3M574.33 82.01v3M563.49 52.29h3M564.99 50.79v3M549.9 83.47h3M551.4 81.97v3M585.73 83.72h3M587.23 82.22v3M541.72 80.96h3M543.22 79.46v3M590.19 76.91h3M591.69 75.41v3M541.16 74.38h3M542.66 72.88v3M570.34 83.63h3M571.84 82.13v3M577.11 83.31h3M578.61 81.81v3M541.47 65.1h3M542.97 63.6v3M590.44 57.33h3M591.94 55.83v3M562.39 53.01h3M563.89 51.51v3M542 58h3M543.5 56.5v3M541.36 73.78h3M542.86 72.28v3M541.05 78.27h3M542.55 76.77v3M541.88 83.65h3M543.38 82.15v3M548.25 83.87h3M549.75 82.37v3M541.75 52.57h3M543.25 51.07v3M591.15 58.32h3M592.65 56.82v3M551.89 52.89h3M553.39 51.39v3M590.3 62.7h3M591.8 61.2v3M541.84 78.23h3M543.34 76.73v3M575.78 52.96h3M577.28 51.46v3M569.62 51.93h3M571.12 50.43v3M540.99 79.51h3M542.49 78.01v3M590.59 58.51h3M592.09 57.01v3M541.92 66.68h3M543.42 65.18v3M541.92 60.49h3M543.42 58.99v3M561.02 52.84h3M562.52 51.34v3M541.8 74.63h3M543.3 73.13v3M541.23 61.3h3M542.73 59.8v3M552.99 52.83h3M554.49 51.33v3M571.57 52.32h3M573.07 50.82v3M573.62 83.51h3M575.12 82.01v3M541.1 60.23h3M542.6 58.73v3M541.95 58.1h3M543.45 56.6v3M568.64 51.94h3M570.14 50.44v3M541.47 68.53h3M542.97 67.03v3M590.56 80.39h3M592.06 78.89v3M559.78 52h3M561.28 50.5v3M540.93 78.6h3M542.43 77.1v3M579.89 52.05h3M581.39 50.55v3M541.94 78.07h3M543.44 76.57v3M566.37 52.09h3M567.87 50.59v3M590.65 72.74h3M592.15 71.24v3M541.06 62.46h3M542.56 60.96v3M563.37 83.32h3M564.87 81.82v3M541.56 64.52h3M543.06 63.02v3M561.32 84.06h3M562.82 82.56v3M567.49 52.63h3M568.99 51.13v3M591.1 79.47h3M592.6 77.97v3M569.36 52.63h3M570.86 51.13v3M584.47 83.49h3M585.97 81.99v3M590.12 53.09h3M591.62 51.59v3M576.15 84.05h3M577.65 82.55v3M541.07 62.4h3M542.57 60.9v3M541.35 74.13h3M542.85 72.63v3M542.01 72.82h3M543.51 71.32v3M590.97 66.87h3M592.47 65.37v3M541.75 61.99h3M543.25 60.49v3M578.11 52.96h3M579.61 51.46v3M541.54 74.69h3M543.04 73.19v3M541.57 76.21h3M543.07 74.71v3M541.07 66.52h3M542.57 65.02v3M580.82 52.27h3M582.32 50.77v3M575.57 52.69h3M577.07 51.19v3M590.97 53.72h3M592.47 52.22v3M541.55 69.78h3M543.05 68.28v3M590.65 81h3M592.15 79.5v3" stroke="#0505f5" stroke-width="0.9" fill="none"/>
<path d="M593.6 57h3.8M595.5 55.1v3.8M594.6 62h3.8M596.5 60.1v3.8M595.6 66h3.8M597.5 64.1v3.8M593.6 72h3.8M595.5 70.1v3.8M594.1 78h3.8M596 76.1v3.8M592.9 82h3.8M594.8 80.1v3.8M538.1 60h3.8M540 58.1v3.8M537.6 72h3.8M539.5 70.1v3.8" stroke="#1a1af5" stroke-opacity="0.9" stroke-width="0.9" fill="none"/>
<rect x="64.2" y="221.5" width="398.1" height="101.9" fill="none" stroke="#606060" stroke-width="1"/>
<line x1="58.7" y1="319.7" x2="64.2" y2="319.7" stroke="#606060" stroke-width="1" />
<line x1="58.7" y1="310.25" x2="64.2" y2="310.25" stroke="#606060" stroke-width="1" />
<line x1="58.7" y1="300.8" x2="64.2" y2="300.8" stroke="#606060" stroke-width="1" />
<line x1="58.7" y1="291.35" x2="64.2" y2="291.35" stroke="#606060" stroke-width="1" />
<line x1="58.7" y1="281.9" x2="64.2" y2="281.9" stroke="#606060" stroke-width="1" />
<line x1="58.7" y1="272.45" x2="64.2" y2="272.45" stroke="#606060" stroke-width="1" />
<line x1="58.7" y1="263" x2="64.2" y2="263" stroke="#606060" stroke-width="1" />
<line x1="58.7" y1="253.55" x2="64.2" y2="253.55" stroke="#606060" stroke-width="1" />
<line x1="58.7" y1="244.1" x2="64.2" y2="244.1" stroke="#606060" stroke-width="1" />
<line x1="58.7" y1="234.65" x2="64.2" y2="234.65" stroke="#606060" stroke-width="1" />
<line x1="58.7" y1="225.2" x2="64.2" y2="225.2" stroke="#606060" stroke-width="1" />
<line x1="78.5" y1="323.4" x2="78.5" y2="328.7" stroke="#606060" stroke-width="1" />
<line x1="91.5" y1="323.4" x2="91.5" y2="328.7" stroke="#606060" stroke-width="1" />
<line x1="127.29" y1="323.4" x2="127.29" y2="328.7" stroke="#606060" stroke-width="1" />
<line x1="148.23" y1="323.4" x2="148.23" y2="328.7" stroke="#606060" stroke-width="1" />
<line x1="163.08" y1="323.4" x2="163.08" y2="328.7" stroke="#606060" stroke-width="1" />
<line x1="174.61" y1="323.4" x2="174.61" y2="328.7" stroke="#606060" stroke-width="1" />
<line x1="184.02" y1="323.4" x2="184.02" y2="328.7" stroke="#606060" stroke-width="1" />
<line x1="191.98" y1="323.4" x2="191.98" y2="328.7" stroke="#606060" stroke-width="1" />
<line x1="198.88" y1="323.4" x2="198.88" y2="328.7" stroke="#606060" stroke-width="1" />
<line x1="204.96" y1="323.4" x2="204.96" y2="328.7" stroke="#606060" stroke-width="1" />
<line x1="210.4" y1="323.4" x2="210.4" y2="328.7" stroke="#606060" stroke-width="1" />
<line x1="246.19" y1="323.4" x2="246.19" y2="328.7" stroke="#606060" stroke-width="1" />
<line x1="267.13" y1="323.4" x2="267.13" y2="328.7" stroke="#606060" stroke-width="1" />
<line x1="281.98" y1="323.4" x2="281.98" y2="328.7" stroke="#606060" stroke-width="1" />
<line x1="293.51" y1="323.4" x2="293.51" y2="328.7" stroke="#606060" stroke-width="1" />
<line x1="302.92" y1="323.4" x2="302.92" y2="328.7" stroke="#606060" stroke-width="1" />
<line x1="310.88" y1="323.4" x2="310.88" y2="328.7" stroke="#606060" stroke-width="1" />
<line x1="317.78" y1="323.4" x2="317.78" y2="328.7" stroke="#606060" stroke-width="1" />
<line x1="323.86" y1="323.4" x2="323.86" y2="328.7" stroke="#606060" stroke-width="1" />
<line x1="329.3" y1="323.4" x2="329.3" y2="328.7" stroke="#606060" stroke-width="1" />
<line x1="365.09" y1="323.4" x2="365.09" y2="328.7" stroke="#606060" stroke-width="1" />
<line x1="386.03" y1="323.4" x2="386.03" y2="328.7" stroke="#606060" stroke-width="1" />
<line x1="400.88" y1="323.4" x2="400.88" y2="328.7" stroke="#606060" stroke-width="1" />
<line x1="412.41" y1="323.4" x2="412.41" y2="328.7" stroke="#606060" stroke-width="1" />
<line x1="421.82" y1="323.4" x2="421.82" y2="328.7" stroke="#606060" stroke-width="1" />
<line x1="429.78" y1="323.4" x2="429.78" y2="328.7" stroke="#606060" stroke-width="1" />
<line x1="436.68" y1="323.4" x2="436.68" y2="328.7" stroke="#606060" stroke-width="1" />
<line x1="442.76" y1="323.4" x2="442.76" y2="328.7" stroke="#606060" stroke-width="1" />
<line x1="448.2" y1="323.4" x2="448.2" y2="328.7" stroke="#606060" stroke-width="1" />
<text transform="translate(53,319.7) rotate(-90)" font-size="12.2" text-anchor="middle" >0</text>
<text transform="translate(53,272.45) rotate(-90)" font-size="12.2" text-anchor="middle" >0.5</text>
<text transform="translate(53,225.2) rotate(-90)" font-size="12.2" text-anchor="middle" >1</text>
<text x="75.1" y="343.8" font-size="12.2" text-anchor="middle" >0</text>
<text x="87.6" y="343.8" font-size="12.2">10<tspan font-size="9.6" dy="-5.6">&#8722;3</tspan></text>
<text x="202.4" y="343.8" font-size="12.2">10<tspan font-size="9.6" dy="-5.6">&#8722;2</tspan></text>
<text x="321.1" y="343.8" font-size="12.2">10<tspan font-size="9.6" dy="-5.6">&#8722;1</tspan></text>
<text x="447.5" y="343.8" font-size="12.2" text-anchor="middle" >1</text>
<text x="262.9" y="362.2" font-size="13.1" text-anchor="middle" >PCA rate (&#946;)</text>
<text transform="translate(29.7,288.4) rotate(-90)" font-size="13.2" text-anchor="middle" >Source&#8211;output correlation</text>
<clipPath id="cb"><rect x="64.2" y="221.5" width="398.1" height="101.9"/></clipPath>
<g clip-path="url(#cb)">
<polygon points="78.5,304.4 82.33,302.65 86.17,300.91 90,299.17 94.23,298.45 98.47,297.74 102.7,297.03 106.56,295.78 110.42,294.53 114.28,293.27 118.14,292.02 122,290.77 126.35,289.53 130.7,288.3 135.05,287.06 139.4,285.82 145.2,285.35 151,284.89 155.33,283.58 159.67,282.26 164,280.95 168,280.16 172,279.38 176,278.59 180,277.8 184,277.02 188,276.23 192,275.44 196,274.66 200.25,272.96 204.5,271.27 208.75,269.57 213,267.87 217.25,266.18 221.5,264.48 224.68,261.84 227.86,259.19 231.05,256.55 234.23,253.9 237.41,251.25 240.59,248.61 243.77,245.96 246.95,243.32 250.14,240.68 253.32,238.29 256.5,235.89 261,235.99 265.5,236.1 270,236.2 274.4,233.98 278.8,231.76 283.17,231.49 287.53,231.22 291.9,230.87 296.77,232.39 301.63,233.9 306.5,235.42 311.37,236.8 316.23,238.18 321.1,239.57 325.97,240.48 330.83,241.37 335.7,242.1 340.57,242.6 345.43,243.1 350.3,243.6 354.47,243.68 358.63,243.77 362.8,243.85 366.97,243.93 371.13,244.02 375.3,244.1 379.47,244.18 383.63,244.27 387.8,244.35 391.97,244.43 396.13,244.52 400.3,244.6 404.9,242.45 409.5,240.3 414.25,238.85 419,237.4 424.7,233.2 429.95,231.05 435.2,228.9 438.38,231.75 441.55,234.6 444.72,237.45 447.9,240.3 447.9,241.3 444.72,238.45 441.55,235.6 438.38,232.75 435.2,229.9 429.95,232.05 424.7,234.2 419,238.4 414.25,239.85 409.5,241.3 404.9,243.45 400.3,245.6 396.13,245.52 391.97,245.43 387.8,245.35 383.63,245.27 379.47,245.18 375.3,245.1 371.13,245.02 366.97,244.93 362.8,244.85 358.63,244.77 354.47,244.68 350.3,244.6 345.43,244.1 340.57,243.6 335.7,243.1 330.83,242.37 325.97,241.78 321.1,241.23 316.23,240.22 311.37,239.2 306.5,238.18 301.63,237.03 296.77,235.88 291.9,234.73 287.53,235.59 283.17,236.51 278.8,237.44 274.4,240.32 270,243.2 265.5,243.77 261,244.34 256.5,244.91 253.32,247.79 250.14,250.66 246.95,253.3 243.77,255.93 240.59,258.55 237.41,261.18 234.23,263.81 231.05,266.44 227.86,269.06 224.68,271.69 221.5,274.32 217.25,275.99 213,277.66 208.75,279.33 204.5,281 200.25,282.67 196,284.34 192,285.11 188,285.87 184,286.63 180,287.4 176,288.16 172,288.92 168,289.69 164,290.45 159.67,291.74 155.33,293.02 151,294.31 145.2,294.75 139.4,295.18 135.05,296.39 130.7,297.6 126.35,298.82 122,300.03 118.14,301.26 114.28,302.49 110.42,303.71 106.56,304.94 102.7,306.17 98.47,306.86 94.23,307.55 90,308.23 86.17,309.96 82.33,311.68 78.5,313.4" fill="#d8f8d2" fill-opacity="1"/>
<polygon points="78.5,307.5 82.8,308 87.1,308.5 91.4,309 95.7,309.5 100,310 104,310.13 108,310.27 112,310.4 116,310.53 120,310.67 124,310.8 128,310.93 132,311.07 136,311.2 140,311.33 144,311.47 148,311.6 152,311.73 156,311.87 160,312 164.17,312.17 168.33,312.33 172.5,312.5 176.67,312.67 180.83,312.83 185,313 189.17,313.17 193.33,313.33 197.5,313.5 201.67,313.66 205.83,313.8 210,313.95 214.29,313.86 218.57,313.76 222.86,313.67 227.14,313.58 231.43,313.49 235.71,313.39 240,313.3 243.75,311.73 247.5,310.16 251.25,308.59 255,307.03 258.88,304.36 262.75,301.69 266.62,299.02 270.5,296.35 274.85,295.35 279.2,294.35 283.55,293.36 287.9,292.36 291.38,290.22 294.86,288.09 298.34,285.95 301.82,283.84 305.3,281.75 308.78,279.47 312.26,277.18 315.74,274.9 319.22,272.61 322.7,270.33 327.2,267.81 331.7,265.28 336.2,262.76 340.9,261.73 345.6,260.71 350.3,259.68 355,258.65 359.8,258.06 364.6,257.48 369.4,256.89 373.58,256.67 377.77,256.44 381.95,256.22 386.13,255.99 390.32,255.77 394.5,255.55 399.35,253.69 404.2,251.8 407.43,248.87 410.67,245.93 413.9,243 417.1,239.8 420.3,236.6 423.5,233.4 427.4,231.07 431.3,228.73 435.2,226.4 437.74,230.2 440.28,234 442.82,237.8 445.36,241.6 447.9,245.4 447.9,251.4 445.36,247.6 442.82,243.8 440.28,240 437.74,236.2 435.2,232.4 431.3,234.73 427.4,237.07 423.5,239.4 420.3,242.6 417.1,245.8 413.9,249 410.67,251.93 407.43,254.87 404.2,257.8 399.35,259.71 394.5,261.66 390.32,261.96 386.13,262.27 381.95,262.58 377.77,262.89 373.58,263.2 369.4,263.51 364.6,264.19 359.8,264.87 355,265.55 350.3,266.67 345.6,267.79 340.9,268.92 336.2,270.04 331.7,272.65 327.2,275.26 322.7,277.87 319.22,280.23 315.74,282.58 312.26,284.94 308.78,287.29 305.3,289.65 301.82,291.8 298.34,293.93 294.86,296.03 291.38,298.14 287.9,300.24 283.55,301.19 279.2,302.15 274.85,303.1 270.5,304.05 266.62,306.68 262.75,309.31 258.88,311.94 255,314.57 251.25,316.11 247.5,317.64 243.75,319.17 240,320.7 235.71,320.75 231.43,320.8 227.14,320.85 222.86,320.9 218.57,320.95 214.29,321 210,321.05 205.83,320.86 201.67,320.68 197.5,320.5 193.33,320.33 189.17,320.17 185,320 180.83,319.83 176.67,319.67 172.5,319.5 168.33,319.33 164.17,319.17 160,319 156,318.87 152,318.73 148,318.6 144,318.47 140,318.33 136,318.2 132,318.07 128,317.93 124,317.8 120,317.67 116,317.53 112,317.4 108,317.27 104,317.13 100,317 95.7,316.5 91.4,316 87.1,315.5 82.8,315 78.5,314.5" fill="#d8f8d2" fill-opacity="1"/>
<polygon points="78.5,310 82.65,310.2 86.8,310.4 90.95,310.6 95.1,310.8 99.25,311 103.4,311.2 107.55,311.4 111.7,311.6 115.85,311.8 120,312 124.17,312.12 128.33,312.25 132.5,312.38 136.67,312.5 140.83,312.62 145,312.75 149.17,312.88 153.33,313 157.5,313.12 161.67,313.25 165.83,313.38 170,313.5 174,313.61 178,313.73 182,313.84 186,313.95 190,314.07 194,314.18 198,314.29 202,314.41 206,314.52 210,314.63 214,314.75 218,314.86 222,314.97 226,315.09 230,315.2 234.12,315.22 238.24,315.24 242.35,315.25 246.47,315.27 250.59,315.29 254.71,315.31 258.82,315.32 262.94,315.34 267.06,315.36 271.18,315.38 275.29,315.39 279.41,315.41 283.53,315.43 287.65,315.45 291.76,315.46 295.88,315.48 300,315.5 304.17,315.17 308.33,314.83 312.5,314.5 316.67,314.16 320.83,313.83 325,313.49 329.17,313.16 333.33,312.83 337.5,312.49 341.67,312.16 345.83,311.82 350,311.49 354.3,311.14 358.6,310.79 362.9,310.44 367.2,310.09 371.5,309.74 375.8,309.39 380.1,309.04 384.4,308.59 388.7,308.14 394.5,307.26 400.3,306.39 405.47,305.4 410.63,304.41 415.8,303.43 420.65,302.81 425.5,302.19 430.35,301.58 435.2,301.1 439.43,301.4 443.67,301.7 447.9,302 447.9,312 443.67,311.7 439.43,311.4 435.2,311.1 430.35,311.58 425.5,311.92 420.65,312.24 415.8,312.57 410.63,313.25 405.47,313.93 400.3,314.61 394.5,315.13 388.7,315.66 384.4,315.85 380.1,316.05 375.8,316.34 371.5,316.64 367.2,316.93 362.9,317.23 358.6,317.52 354.3,317.82 350,318.11 345.83,318.39 341.67,318.68 337.5,318.96 333.33,319.24 329.17,319.52 325,319.81 320.83,320.09 316.67,320.37 312.5,320.65 308.33,320.94 304.17,321.22 300,321.5 295.88,321.48 291.76,321.46 287.65,321.45 283.53,321.43 279.41,321.41 275.29,321.39 271.18,321.38 267.06,321.36 262.94,321.34 258.82,321.32 254.71,321.31 250.59,321.29 246.47,321.27 242.35,321.25 238.24,321.24 234.12,321.22 230,321.2 226,321.09 222,320.97 218,320.86 214,320.75 210,320.63 206,320.52 202,320.41 198,320.29 194,320.18 190,320.07 186,319.95 182,319.84 178,319.73 174,319.61 170,319.5 165.83,319.38 161.67,319.25 157.5,319.12 153.33,319 149.17,318.88 145,318.75 140.83,318.62 136.67,318.5 132.5,318.38 128.33,318.25 124.17,318.12 120,318 115.85,317.8 111.7,317.6 107.55,317.4 103.4,317.2 99.25,317 95.1,316.8 90.95,316.6 86.8,316.4 82.65,316.2 78.5,316" fill="#d8f8d2" fill-opacity="1"/>
<polygon points="78.5,311.5 82.71,311.68 86.91,311.85 91.12,312.03 95.32,312.21 99.53,312.38 103.74,312.56 107.94,312.74 112.15,312.91 116.35,313.09 120.56,313.26 124.76,313.44 128.97,313.62 133.18,313.79 137.38,313.97 141.59,314.15 145.79,314.32 150,314.5 154,314.57 158,314.65 162,314.73 166,314.8 170,314.88 174,314.95 178,315.02 182,315.1 186,315.18 190,315.25 194,315.32 198,315.4 202,315.48 206,315.55 210,315.62 214,315.7 218,315.77 222,315.85 226,315.93 230,316 234.04,316.01 238.07,316.01 242.11,316.02 246.14,316.02 250.18,316.03 254.21,316.03 258.25,316.04 262.28,316.04 266.32,316.05 270.35,316.06 274.39,316.06 278.42,316.07 282.46,316.07 286.49,316.08 290.53,316.08 294.56,316.09 298.6,316.09 302.63,316.1 306.67,316.11 310.7,316.11 314.74,316.12 318.77,316.12 322.81,316.13 326.84,316.13 330.88,316.14 334.91,316.14 338.95,316.15 342.99,316.16 347.02,316.16 351.06,316.17 355.09,316.17 359.13,316.18 363.16,316.18 367.2,316.19 371.23,316.19 375.27,316.2 379.3,316.21 383.34,316.21 387.37,316.22 391.41,316.22 395.44,316.23 399.48,316.23 403.51,316.24 407.55,316.24 411.58,316.25 415.62,316.26 419.65,316.26 423.69,316.27 427.72,316.27 431.76,316.28 435.79,316.28 439.83,316.29 443.86,316.29 447.9,316.3 447.9,321.3 443.86,321.29 439.83,321.29 435.79,321.28 431.76,321.28 427.72,321.27 423.69,321.27 419.65,321.26 415.62,321.26 411.58,321.25 407.55,321.24 403.51,321.24 399.48,321.23 395.44,321.23 391.41,321.22 387.37,321.22 383.34,321.21 379.3,321.21 375.27,321.2 371.23,321.19 367.2,321.19 363.16,321.18 359.13,321.18 355.09,321.17 351.06,321.17 347.02,321.16 342.99,321.16 338.95,321.15 334.91,321.14 330.88,321.14 326.84,321.13 322.81,321.13 318.77,321.12 314.74,321.12 310.7,321.11 306.67,321.11 302.63,321.1 298.6,321.09 294.56,321.09 290.53,321.08 286.49,321.08 282.46,321.07 278.42,321.07 274.39,321.06 270.35,321.06 266.32,321.05 262.28,321.04 258.25,321.04 254.21,321.03 250.18,321.03 246.14,321.02 242.11,321.02 238.07,321.01 234.04,321.01 230,321 226,320.93 222,320.85 218,320.77 214,320.7 210,320.62 206,320.55 202,320.48 198,320.4 194,320.32 190,320.25 186,320.18 182,320.1 178,320.02 174,319.95 170,319.88 166,319.8 162,319.73 158,319.65 154,319.57 150,319.5 145.79,319.32 141.59,319.15 137.38,318.97 133.18,318.79 128.97,318.62 124.76,318.44 120.56,318.26 116.35,318.09 112.15,317.91 107.94,317.74 103.74,317.56 99.53,317.38 95.32,317.21 91.12,317.03 86.91,316.85 82.71,316.68 78.5,316.5" fill="#d8f8d2" fill-opacity="1"/>
<polygon points="78.5,232.59 84,233.04 89.5,233.49 93.8,233.73 98.1,233.98 102.4,234.22 106.7,234.46 111,234.7 115.3,235.33 119.6,235.95 123.9,236.57 128.2,237.19 132.5,237.82 136.72,238.7 140.94,239.58 145.16,240.47 149.38,241.35 153.6,242.25 157.86,242.98 162.12,243.72 166.38,244.45 170.64,245.19 174.9,245.93 179.12,246.96 183.34,248 187.56,249.04 191.78,250.07 196,251.11 200.2,252.19 204.4,253.26 208.6,254.34 212.8,255.42 217,256.5 221.75,258.87 226.5,261.25 231.25,263.98 236,266.71 240.5,269.44 245,272.18 249.75,274.7 254.5,277.41 258.46,278.95 262.42,280.49 266.38,282.03 270.34,283.57 274.3,285.11 278.56,286.69 282.82,288.28 287.08,289.87 291.34,291.45 295.6,293.04 299.86,294.17 304.12,295.29 308.38,296.42 312.64,297.55 316.9,298.67 321.75,301.24 326.6,303.81 331.4,306.42 336.2,309.22 341.05,311.07 345.9,312.93 350.45,314.1 355,315.28 359,315.78 363,316.09 367,316.36 371,316.61 375,316.88 379.05,316.99 383.1,317.1 387.15,317.21 391.2,317.32 395.25,317.44 399.3,317.55 403.35,317.6 407.4,317.63 411.45,317.67 415.5,317.7 419.55,317.74 423.6,317.77 427.65,317.81 431.7,317.85 435.75,317.88 439.8,317.92 443.85,317.95 447.9,317.99 447.9,320.41 443.85,320.43 439.8,320.44 435.75,320.45 431.7,320.47 427.65,320.48 423.6,320.49 419.55,320.5 415.5,320.52 411.45,320.53 407.4,320.54 403.35,320.56 399.3,320.58 395.25,320.67 391.2,320.76 387.15,320.85 383.1,320.94 379.05,321.03 375,321.12 371,321.06 367,321 363,320.94 359,320.94 355,321.12 350.45,320.7 345.9,320.28 341.05,319.23 336.2,318.18 331.4,316.18 326.6,313.98 321.75,311.66 316.9,309.33 312.64,308.41 308.38,307.5 304.12,306.59 299.86,305.67 295.6,304.76 291.34,303.39 287.08,302.01 282.82,300.64 278.56,299.27 274.3,297.89 270.34,296.55 266.38,295.21 262.42,293.87 258.46,292.53 254.5,291.19 249.75,288.7 245,286.03 240.5,283.16 236,280.29 231.25,277.42 226.5,274.55 221.75,272.03 217,269.5 212.8,268.3 208.6,267.1 204.4,265.9 200.2,264.69 196,263.49 191.78,262.33 187.56,261.16 183.34,260 179.12,258.84 174.9,257.67 170.64,256.81 166.38,255.95 162.12,255.08 157.86,254.22 153.6,253.35 149.38,252.33 145.16,251.29 140.94,250.26 136.72,249.22 132.5,248.18 128.2,247.41 123.9,246.63 119.6,245.85 115.3,245.07 111,244.3 106.7,243.9 102.4,243.5 98.1,243.1 93.8,242.71 89.5,242.31 84,241.66 78.5,241.01" fill="#fbbdc2" fill-opacity="0.9"/>
<polygon points="78.5,225.8 82.57,225.79 86.64,225.79 90.71,225.78 94.79,225.78 98.86,225.77 102.93,225.77 107,225.76 111.07,225.76 115.14,225.75 119.21,225.75 123.29,225.74 127.36,225.74 131.43,225.73 135.5,225.73 139.57,225.72 143.64,225.72 147.71,225.71 151.79,225.71 155.86,225.7 159.93,225.7 164,225.69 168.22,225.87 172.45,226.04 176.68,226.22 180.9,226.36 185.12,226.37 189.35,226.39 193.58,226.4 197.8,226.42 202.87,227.06 207.93,227.7 213,228.35 217.8,228.47 222.6,228.59 227.4,228.71 231.93,230.03 236.47,231.39 241,232.76 245.5,235 250,237.24 254.5,239.47 259,241.71 263.5,243.95 268,246.19 272.03,248 276.07,249.81 280.1,251.63 283.5,253.95 286.9,256.28 290.3,258.61 293.7,260.94 297.9,263.25 302.1,265.64 306.3,268.12 310.47,270 314.63,271.87 318.8,273.75 323.33,276.4 327.87,279.06 332.4,281.71 336.9,284.39 341.4,287.08 345.9,289.76 350.45,290.8 355,291.83 359.04,293.09 363.08,294.34 367.12,295.6 371.16,296.85 375.2,298.11 379.7,299.93 384.2,301.93 388.7,303.94 393.87,305.3 399.03,306.66 404.2,308.01 408.07,309.45 411.95,310.9 415.82,312.34 419.7,313.78 424.87,314.73 430.03,315.67 435.2,316.61 439.43,316.88 443.67,317.16 447.9,317.43 447.9,320.57 443.67,320.58 439.43,320.59 435.2,320.59 430.03,320 424.87,319.4 419.7,318.82 415.82,317.86 411.95,316.9 408.07,315.95 404.2,314.99 399.03,314.28 393.87,313.57 388.7,312.86 384.2,311.4 379.7,309.94 375.2,308.29 371.16,307.19 367.12,306.08 363.08,304.98 359.04,303.87 355,302.77 350.45,301.9 345.9,301.04 341.4,298.52 336.9,296.01 332.4,293.49 327.87,291.01 323.33,288.53 318.8,286.05 314.63,284.33 310.47,282.6 306.3,280.88 302.1,278.56 297.9,276.15 293.7,273.67 290.3,271.19 286.9,268.72 283.5,266.25 280.1,263.77 276.07,261.79 272.03,259.8 268,257.81 263.5,255.38 259,252.95 254.5,250.53 250,248.1 245.5,245.67 241,243.24 236.47,241.67 231.93,240.11 227.4,238.49 222.6,237.94 217.8,237.4 213,236.85 207.93,235.76 202.87,234.67 197.8,233.58 193.58,233.2 189.35,232.81 185.12,232.43 180.9,232.04 176.68,231.78 172.45,231.56 168.22,231.33 164,231.11 159.93,231.06 155.86,231.02 151.79,230.98 147.71,230.93 143.64,230.89 139.57,230.85 135.5,230.8 131.43,230.76 127.36,230.72 123.29,230.68 119.21,230.63 115.14,230.59 111.07,230.55 107,230.5 102.93,230.46 98.86,230.42 94.79,230.37 90.71,230.33 86.64,230.29 82.57,230.25 78.5,230.2" fill="#fbbdc2" fill-opacity="0.9"/>
<polygon points="78.5,226.2 82.57,226.17 86.64,226.15 90.71,226.13 94.79,226.1 98.86,226.08 102.93,226.05 107,226.03 111.07,226.01 115.14,225.98 119.21,225.96 123.29,225.93 127.36,225.91 131.43,225.89 135.5,225.86 139.57,225.84 143.64,225.81 147.71,225.79 151.79,225.77 155.86,225.74 159.93,225.72 164,225.69 168.12,225.68 172.25,225.66 176.38,225.64 180.5,225.61 184.62,225.47 188.75,225.34 192.88,225.21 197,225.07 201.12,224.94 205.25,224.8 209.38,224.67 213.5,224.54 217.62,224.4 221.75,224.27 225.88,224.13 230,224 234.17,224.54 238.33,225.09 242.5,225.63 246.67,226.18 250.83,226.72 255,227.26 259.82,228.29 264.65,229.31 269.48,230.33 274.3,231.35 278.7,232.28 283.1,233.2 287.5,234.13 291.9,235.05 296.3,235.98 301.4,238.1 306.5,240.32 310.4,242.03 314.3,243.75 318.2,245.46 322.95,246.03 327.7,246.59 332.45,247.16 337.2,247.72 341.28,247.44 345.36,247.15 349.44,246.86 353.52,246.58 357.6,246.29 361.88,246.85 366.16,247.4 370.44,247.95 374.72,248.51 379,249.06 382.88,250.82 386.76,252.57 390.64,254.32 394.52,256.08 398.4,257.83 403.8,258.85 407.85,259.86 411.9,260.87 415.95,261.89 420,262.9 423.8,261.09 427.6,259.28 431.4,257.46 435.2,255.65 439.43,257.06 443.67,258.48 447.9,259.89 447.9,270.91 443.67,269.52 439.43,268.14 435.2,266.75 431.4,268.59 427.6,270.42 423.8,272.26 420,274.1 415.95,273.11 411.9,272.13 407.85,271.14 403.8,270.15 398.4,269.17 394.52,267.44 390.64,265.72 386.76,263.99 382.88,262.26 379,260.54 374.72,260.01 370.44,259.49 366.16,258.96 361.88,258.43 357.6,257.91 353.52,258.22 349.44,258.54 345.36,258.85 341.28,259.16 337.2,259.48 332.45,258.94 327.7,258.41 322.95,257.87 318.2,257.34 314.3,255.65 310.4,253.97 306.5,252.28 301.4,250.1 296.3,247.82 291.9,246.71 287.5,245.59 283.1,244.48 278.7,243.36 274.3,242.25 269.48,241.02 264.65,239.79 259.82,238.56 255,237.34 250.83,236.61 246.67,235.89 242.5,235.17 238.33,234.45 234.17,233.72 230,233 225.88,232.85 221.75,232.71 217.62,232.56 213.5,232.41 209.38,232.27 205.25,232.12 201.12,231.97 197,231.83 192.88,231.68 188.75,231.53 184.62,231.39 180.5,231.24 176.38,231.2 172.25,231.17 168.12,231.14 164,231.11 159.93,231.08 155.86,231.06 151.79,231.03 147.71,231.01 143.64,230.99 139.57,230.96 135.5,230.94 131.43,230.91 127.36,230.89 123.29,230.87 119.21,230.84 115.14,230.82 111.07,230.79 107,230.77 102.93,230.75 98.86,230.72 94.79,230.7 90.71,230.67 86.64,230.65 82.57,230.63 78.5,230.6" fill="#fbbdc2" fill-opacity="0.9"/>
<polygon points="78.5,224.4 82.71,224.38 86.91,224.36 91.12,224.35 95.32,224.33 99.53,224.31 103.74,224.29 107.94,224.28 112.15,224.26 116.35,224.24 120.56,224.22 124.76,224.21 128.97,224.19 133.18,224.17 137.38,224.15 141.59,224.14 145.79,224.12 150,224.1 154,224.1 158,224.1 162,224.1 166,224.1 170,224.1 174,224.1 178,224.1 182,224.1 186,224.1 190,224.1 194,224.1 198,224.1 202,224.1 206,224.1 210,224.1 214,224.1 218,224.1 222,224.1 226,224.1 230,224.1 234,224.1 238,224.1 242,224.1 246,224.1 250,224.1 254.17,224.13 258.33,224.15 262.5,224.18 266.67,224.2 270.83,224.23 275,224.25 279.17,224.28 283.33,224.3 287.5,224.33 291.67,224.35 295.83,224.38 300,224.4 304.23,224.44 308.46,224.48 312.69,224.52 316.92,224.55 321.15,224.59 325.38,224.63 329.62,224.67 333.85,224.71 338.08,224.75 342.31,224.78 346.54,224.82 350.77,224.86 355,224.9 359.38,224.9 363.75,224.9 368.12,224.9 372.5,224.9 376.88,224.9 381.25,224.9 385.62,224.9 390,224.9 394.14,225.17 398.29,225.44 402.43,225.71 406.57,225.99 410.71,226.26 414.86,226.53 419,226.8 423.05,227.15 427.1,227.5 431.15,227.85 435.2,228.2 438.38,231.05 441.55,233.9 444.72,236.75 447.9,239.6 447.9,242 444.72,239.15 441.55,236.3 438.38,233.45 435.2,230.6 431.15,230.25 427.1,229.9 423.05,229.55 419,229.2 414.86,228.93 410.71,228.66 406.57,228.39 402.43,228.11 398.29,227.84 394.14,227.57 390,227.3 385.62,227.3 381.25,227.3 376.88,227.3 372.5,227.3 368.12,227.3 363.75,227.3 359.38,227.3 355,227.3 350.77,227.26 346.54,227.22 342.31,227.18 338.08,227.15 333.85,227.11 329.62,227.07 325.38,227.03 321.15,226.99 316.92,226.95 312.69,226.92 308.46,226.88 304.23,226.84 300,226.8 295.83,226.77 291.67,226.75 287.5,226.72 283.33,226.7 279.17,226.67 275,226.65 270.83,226.62 266.67,226.6 262.5,226.57 258.33,226.55 254.17,226.53 250,226.5 246,226.5 242,226.5 238,226.5 234,226.5 230,226.5 226,226.5 222,226.5 218,226.5 214,226.5 210,226.5 206,226.5 202,226.5 198,226.5 194,226.5 190,226.5 186,226.5 182,226.5 178,226.5 174,226.5 170,226.5 166,226.5 162,226.5 158,226.5 154,226.5 150,226.5 145.79,226.52 141.59,226.54 137.38,226.55 133.18,226.57 128.97,226.59 124.76,226.61 120.56,226.62 116.35,226.64 112.15,226.66 107.94,226.68 103.74,226.69 99.53,226.71 95.32,226.73 91.12,226.75 86.91,226.76 82.71,226.78 78.5,226.8" fill="#fbbdc2" fill-opacity="0.9"/>
<polyline points="78.5,314 150,317 230,318.5 447.9,318.8" fill="none" stroke="#14e014" stroke-width="2.4" stroke-linejoin="round" stroke-linecap="round" stroke-dasharray="0.3 10.4" stroke-dashoffset="-10.65"/>
<polyline points="78.5,313 120,315 170,316.5 230,318.2 300,318.5 350,314.8 388.7,311.9 400.3,310.5 415.8,308 435.2,306.1 447.9,307" fill="none" stroke="#14e014" stroke-width="2.4" stroke-linejoin="round" stroke-linecap="round" stroke-dasharray="8.3 10.4 0.3 10.4" stroke-dashoffset="-14.13"/>
<polyline points="78.5,311 100,313.5 160,315.5 210,317.5 240,317 255,310.8 270.5,300.2 287.9,296.3 305.3,285.7 322.7,274.1 336.2,266.4 355,262.1 369.4,260.2 394.5,258.6 404.2,254.8 413.9,246 423.5,236.4 435.2,229.4 447.9,248.4" fill="none" stroke="#14e014" stroke-width="2.4" stroke-linejoin="round" stroke-linecap="round" stroke-dasharray="8.3 13.1" stroke-dashoffset="-2.23"/>
<polyline points="78.5,308.9 90,303.7 102.7,301.6 122,295.4 139.4,290.5 151,289.6 164,285.7 196,279.5 221.5,269.4 256.5,240.4 270,239.7 278.8,234.6 291.9,232.8 306.5,236.8 321.1,240.4 335.7,242.6 350.3,244.1 400.3,245.1 409.5,240.8 419,237.9 424.7,233.7 435.2,229.4 447.9,240.8" fill="none" stroke="#14e014" stroke-width="2.4" stroke-linejoin="round" stroke-linecap="round" />
<polyline points="78.5,236.8 89.5,237.9 111,239.5 132.5,243 153.6,247.8 174.9,251.8 196,257.3 217,263 226.5,267.9 236,273.5 245,279.1 254.5,284.3 274.3,291.5 295.6,298.9 316.9,304 326.6,308.9 336.2,313.7 345.9,316.6 355,318.2 375,319 447.9,319.2" fill="none" stroke="#dd0000" stroke-width="2.4" stroke-linejoin="round" stroke-linecap="round" stroke-dasharray="0.3 10.4" stroke-dashoffset="-0.32"/>
<polyline points="78.5,228 164,228.4 197.8,230 213,232.6 227.4,233.6 241,238 254.5,245 268,252 280.1,257.7 293.7,267.3 306.3,274.5 318.8,279.9 332.4,287.6 345.9,295.4 355,297.3 375.2,303.2 388.7,308.4 404.2,311.5 419.7,316.3 435.2,318.6 447.9,319" fill="none" stroke="#dd0000" stroke-width="2.4" stroke-linejoin="round" stroke-linecap="round" stroke-dasharray="8.3 10.4 0.3 10.4" stroke-dashoffset="-14.13"/>
<polyline points="78.5,228.4 164,228.4 230,228.5 255,232.3 274.3,236.8 296.3,241.9 306.5,246.3 318.2,251.4 337.2,253.6 357.6,252.1 379,254.8 398.4,263.5 403.8,264.5 420,268.5 435.2,261.2 447.9,265.4" fill="none" stroke="#dd0000" stroke-width="2.4" stroke-linejoin="round" stroke-linecap="round" stroke-dasharray="8.3 13.1" stroke-dashoffset="-1.4"/>
<polyline points="78.5,225.6 150,225.3 250,225.3 300,225.6 355,226.1 390,226.1 419,228 435.2,229.4 447.9,240.8" fill="none" stroke="#dd0000" stroke-width="2.4" stroke-linejoin="round" stroke-linecap="round" />
</g>
<text x="479.3" y="231.7" font-size="14.4" fill="#33dd33" >Gaussian</text>
<text x="557.9" y="231.7" font-size="14.4" fill="#dd2222" >Uniform</text>
<text x="627.4" y="231.7" font-size="14.6" >Variance</text>
<text x="479.3" y="256.2" font-size="14.4" font-style="italic">s<tspan font-style="normal" font-size="11" dy="2.6">1</tspan></text>
<polyline points="496.9,253 541.2,253" fill="none" stroke="#14e014" stroke-width="2.4" stroke-linejoin="round" stroke-linecap="round" />
<text x="558" y="256.2" font-size="14.4" font-style="italic">s<tspan font-style="normal" font-size="11" dy="2.6">2</tspan></text>
<polyline points="575.6,253 619.9,253" fill="none" stroke="#dd0000" stroke-width="2.4" stroke-linejoin="round" stroke-linecap="round" />
<text x="655.8" y="258" font-size="14.4" text-anchor="middle" >4</text>
<text x="479.3" y="282.8" font-size="14.4" font-style="italic">s<tspan font-style="normal" font-size="11" dy="2.6">3</tspan></text>
<polyline points="496.9,279.6 541.2,279.6" fill="none" stroke="#14e014" stroke-width="2.4" stroke-linejoin="round" stroke-linecap="round" stroke-dasharray="8.1 10.5" />
<text x="558" y="282.8" font-size="14.4" font-style="italic">s<tspan font-style="normal" font-size="11" dy="2.6">4</tspan></text>
<polyline points="575.6,279.6 619.9,279.6" fill="none" stroke="#dd0000" stroke-width="2.4" stroke-linejoin="round" stroke-linecap="round" stroke-dasharray="8.1 10.5" />
<text x="655.8" y="284.6" font-size="14.4" text-anchor="middle" >2</text>
<text x="479.3" y="309.4" font-size="14.4" font-style="italic">s<tspan font-style="normal" font-size="11" dy="2.6">5</tspan></text>
<polyline points="496.9,306.2 541.2,306.2" fill="none" stroke="#14e014" stroke-width="2.4" stroke-linejoin="round" stroke-linecap="round" stroke-dasharray="8.2 11 0.1 11.4" />
<text x="558" y="309.4" font-size="14.4" font-style="italic">s<tspan font-style="normal" font-size="11" dy="2.6">6</tspan></text>
<polyline points="575.6,306.2 619.9,306.2" fill="none" stroke="#dd0000" stroke-width="2.4" stroke-linejoin="round" stroke-linecap="round" stroke-dasharray="8.2 11 0.1 11.4" />
<text x="655.8" y="311.2" font-size="14.4" text-anchor="middle" >1</text>
<text x="479.3" y="336" font-size="14.4" font-style="italic">s<tspan font-style="normal" font-size="11" dy="2.6">7</tspan></text>
<polyline points="496.2,332.8 541.7,332.8" fill="none" stroke="#14e014" stroke-width="2.4" stroke-linejoin="round" stroke-linecap="round" stroke-dasharray="0.1 4.84" />
<text x="558" y="336" font-size="14.4" font-style="italic">s<tspan font-style="normal" font-size="11" dy="2.6">8</tspan></text>
<polyline points="574.9,332.8 620.4,332.8" fill="none" stroke="#dd0000" stroke-width="2.4" stroke-linejoin="round" stroke-linecap="round" stroke-dasharray="0.1 4.84" />
<text x="655.8" y="337.8" font-size="14.4" text-anchor="middle" >0.5</text>
<rect x="68.9" y="412.7" width="145.5" height="101.7" fill="none" stroke="#606060" stroke-width="1"/>
<line x1="63.9" y1="511" x2="68.9" y2="511" stroke="#606060" stroke-width="1" />
<text transform="translate(58.6,511) rotate(-90)" font-size="12.2" text-anchor="middle" >0</text>
<line x1="63.9" y1="479.43" x2="68.9" y2="479.43" stroke="#606060" stroke-width="1" />
<text transform="translate(58.6,479.43) rotate(-90)" font-size="12.2" text-anchor="middle" >0.1</text>
<line x1="63.9" y1="447.86" x2="68.9" y2="447.86" stroke="#606060" stroke-width="1" />
<text transform="translate(58.6,447.86) rotate(-90)" font-size="12.2" text-anchor="middle" >0.2</text>
<line x1="63.9" y1="416.29" x2="68.9" y2="416.29" stroke="#606060" stroke-width="1" />
<text transform="translate(58.6,416.29) rotate(-90)" font-size="12.2" text-anchor="middle" >0.3</text>
<line x1="74.3" y1="514.4" x2="74.3" y2="519.4" stroke="#606060" stroke-width="1" />
<line x1="94.5" y1="514.4" x2="94.5" y2="519.4" stroke="#606060" stroke-width="1" />
<line x1="106.31" y1="514.4" x2="106.31" y2="519.4" stroke="#606060" stroke-width="1" />
<line x1="114.7" y1="514.4" x2="114.7" y2="519.4" stroke="#606060" stroke-width="1" />
<line x1="121.2" y1="514.4" x2="121.2" y2="519.4" stroke="#606060" stroke-width="1" />
<line x1="126.51" y1="514.4" x2="126.51" y2="519.4" stroke="#606060" stroke-width="1" />
<line x1="131.01" y1="514.4" x2="131.01" y2="519.4" stroke="#606060" stroke-width="1" />
<line x1="134.9" y1="514.4" x2="134.9" y2="519.4" stroke="#606060" stroke-width="1" />
<line x1="138.33" y1="514.4" x2="138.33" y2="519.4" stroke="#606060" stroke-width="1" />
<line x1="141.4" y1="514.4" x2="141.4" y2="519.4" stroke="#606060" stroke-width="1" />
<line x1="161.6" y1="514.4" x2="161.6" y2="519.4" stroke="#606060" stroke-width="1" />
<line x1="173.41" y1="514.4" x2="173.41" y2="519.4" stroke="#606060" stroke-width="1" />
<line x1="181.8" y1="514.4" x2="181.8" y2="519.4" stroke="#606060" stroke-width="1" />
<line x1="188.3" y1="514.4" x2="188.3" y2="519.4" stroke="#606060" stroke-width="1" />
<line x1="193.61" y1="514.4" x2="193.61" y2="519.4" stroke="#606060" stroke-width="1" />
<line x1="198.11" y1="514.4" x2="198.11" y2="519.4" stroke="#606060" stroke-width="1" />
<line x1="202" y1="514.4" x2="202" y2="519.4" stroke="#606060" stroke-width="1" />
<line x1="205.43" y1="514.4" x2="205.43" y2="519.4" stroke="#606060" stroke-width="1" />
<line x1="208.5" y1="514.4" x2="208.5" y2="519.4" stroke="#606060" stroke-width="1" />
<text x="73.6" y="534.8" font-size="12.2" text-anchor="middle" >1</text>
<text x="142" y="534.8" font-size="12.2" text-anchor="middle" >10</text>
<text x="200.1" y="534.8" font-size="12.2">10<tspan font-size="9.6" dy="-5.6">2</tspan></text>
<text x="141.7" y="552.9" font-size="13" text-anchor="middle">Max eigenvalue (&#923;<tspan font-size="10" dy="2.7">11</tspan><tspan dy="-2.7">=&#923;</tspan><tspan font-size="10" dy="2.7">22</tspan><tspan dy="-2.7">)</tspan></text>
<text transform="translate(37.2,468.9) rotate(-90)" font-size="13.2" text-anchor="middle" >Normalized PCA cost</text>
<clipPath id="cc"><rect x="68.9" y="412.7" width="145.5" height="101.7"/></clipPath>
<g clip-path="url(#cc)">
<polygon points="74.3,432.1 209.2,413.5 209.2,440.8" fill="#b8b8f6" fill-opacity="0.9"/>
<polygon points="74.3,432 111.8,430.5 124.9,430 133.7,430.5 141.4,429 148,426.6 160,430.5 175.3,431.5 188.4,432 197.2,430 209.2,429.5 209.2,436 197.2,437 188.4,440 175.3,439.5 160,437 148,444.1 141.4,434 133.7,439.7 124.9,435 111.8,434 74.3,432.3" fill="#fbbdc2" fill-opacity="0.85"/>
<polygon points="74.3,432.1 82,430.5 88,430 93,432 98,440 104,447 110,451 116,455.5 122,461 128,467.5 135,474 145,479.5 150,485 160,489 160,492 145,487.5 135,481.5 128,477 122,471 116,466 110,462 104,458 98,452 93,446 88,437.5 74.3,432.1" fill="#fbbdc2" fill-opacity="0.85"/>
<polyline points="74.3,432.1 75.96,433.64 78.25,435.78 80.97,438.31 83.91,441.03 86.89,443.73 89.7,446.2 92.34,448.47 94.96,450.72 97.62,452.94 100.35,455.16 103.19,457.37 106.2,459.6 109.44,461.86 112.89,464.14 116.45,466.43 120.04,468.68 123.55,470.88 126.9,473 130.2,475.11 133.56,477.24 136.84,479.32 139.92,481.26 142.68,482.98 145,484.4 146.71,485.44 147.89,486.14 148.74,486.62 149.48,487 150.33,487.39 151.5,487.9 153,488.52 154.65,489.15 156.41,489.79 158.23,490.44 160.04,491.07 161.8,491.7 163.49,492.31 165.16,492.92 166.83,493.53 168.52,494.12 170.27,494.71 172.1,495.3 174.03,495.89 176.05,496.47 178.12,497.06 180.22,497.63 182.32,498.18 184.4,498.7 186.46,499.2 188.53,499.67 190.6,500.12 192.67,500.56 194.74,500.99 196.8,501.4 199,501.82 201.36,502.25 203.73,502.67 205.91,503.05 207.76,503.37 209.1,503.6" fill="none" stroke="#14e014" stroke-width="2.8" stroke-linejoin="round" stroke-linecap="round" />
<polyline points="74.3,432.1 75.96,433.64 78.25,435.78 80.97,438.31 83.91,441.03 86.89,443.73 89.7,446.2 92.34,448.47 94.96,450.72 97.62,452.94 100.35,455.16 103.19,457.37 106.2,459.6 109.44,461.86 112.89,464.14 116.45,466.43 120.04,468.68 123.55,470.88 126.9,473 130.2,475.11 133.56,477.24 136.84,479.32 139.92,481.26 142.68,482.98 145,484.4 146.71,485.44 147.89,486.14 148.74,486.62 149.48,487 150.33,487.39 151.5,487.9 153,488.52 154.65,489.15 156.41,489.79 158.23,490.44 160.04,491.07 161.8,491.7 163.49,492.31 165.16,492.92 166.83,493.53 168.52,494.12 170.27,494.71 172.1,495.3 174.03,495.89 176.05,496.47 178.12,497.06 180.22,497.63 182.32,498.18 184.4,498.7 186.46,499.2 188.53,499.67 190.6,500.12 192.67,500.56 194.74,500.99 196.8,501.4 199,501.82 201.36,502.25 203.73,502.67 205.91,503.05 207.76,503.37 209.1,503.6" fill="none" stroke="#0000c8" stroke-width="2.8" stroke-linejoin="round" stroke-linecap="round" stroke-dasharray="8.1 13.8" stroke-dashoffset="-0.38"/>
<polyline points="74.3,432.1 82,432.8 88,434.8 93,439.5 98,447.3 104,453.5 110,457.5 116,462 122,467.5 128,473.2 135,478.2 145,484.4 146.71,485.44 147.89,486.14 148.74,486.62 149.48,487 150.33,487.39 151.5,487.9 153,488.52 154.65,489.15 156.41,489.79 158.23,490.44 160.04,491.07 161.8,491.7 163.49,492.31 165.16,492.92 166.83,493.53 168.52,494.12 170.27,494.71 172.1,495.3 174.03,495.89 176.05,496.47 178.12,497.06 180.22,497.63 182.32,498.18 184.4,498.7 186.46,499.2 188.53,499.67 190.6,500.12 192.67,500.56 194.74,500.99 196.8,501.4 199,501.82 201.36,502.25 203.73,502.67 205.91,503.05 207.76,503.37 209.1,503.6" fill="none" stroke="#dd0000" stroke-width="2.8" stroke-linejoin="round" stroke-linecap="round" stroke-dasharray="8.1 13.8" stroke-dashoffset="-21.83"/>
<polyline points="74.3,432.1 209.2,427.2" fill="none" stroke="#0000c8" stroke-width="2.8" stroke-linejoin="round" stroke-linecap="round" />
<polyline points="74.3,432.1 111.8,432.1 124.9,432.5 133.7,435.4 141.4,431.6 149,435.4 160,433.8 166.5,433.2 175.3,436 181.9,433.8 188.4,436.5 197.2,433.2 209.2,432.7" fill="none" stroke="#dd0000" stroke-width="2.8" stroke-linejoin="round" stroke-linecap="round" />
</g>
<rect x="316.5" y="412.8" width="145.9" height="101.8" fill="none" stroke="#606060" stroke-width="1"/>
<line x1="311.5" y1="511.2" x2="316.5" y2="511.2" stroke="#606060" stroke-width="1" />
<line x1="311.5" y1="487.6" x2="316.5" y2="487.6" stroke="#606060" stroke-width="1" />
<line x1="311.5" y1="464" x2="316.5" y2="464" stroke="#606060" stroke-width="1" />
<line x1="311.5" y1="440.4" x2="316.5" y2="440.4" stroke="#606060" stroke-width="1" />
<line x1="311.5" y1="416.8" x2="316.5" y2="416.8" stroke="#606060" stroke-width="1" />
<text transform="translate(306.2,511.2) rotate(-90)" font-size="12.2" text-anchor="middle" >0</text>
<text transform="translate(306.2,464) rotate(-90)" font-size="12.2" text-anchor="middle" >4</text>
<text transform="translate(306.2,416.8) rotate(-90)" font-size="12.2" text-anchor="middle" >8</text>
<line x1="322" y1="514.6" x2="322" y2="519.6" stroke="#606060" stroke-width="1" />
<line x1="342.2" y1="514.6" x2="342.2" y2="519.6" stroke="#606060" stroke-width="1" />
<line x1="354.01" y1="514.6" x2="354.01" y2="519.6" stroke="#606060" stroke-width="1" />
<line x1="362.4" y1="514.6" x2="362.4" y2="519.6" stroke="#606060" stroke-width="1" />
<line x1="368.9" y1="514.6" x2="368.9" y2="519.6" stroke="#606060" stroke-width="1" />
<line x1="374.21" y1="514.6" x2="374.21" y2="519.6" stroke="#606060" stroke-width="1" />
<line x1="378.71" y1="514.6" x2="378.71" y2="519.6" stroke="#606060" stroke-width="1" />
<line x1="382.6" y1="514.6" x2="382.6" y2="519.6" stroke="#606060" stroke-width="1" />
<line x1="386.03" y1="514.6" x2="386.03" y2="519.6" stroke="#606060" stroke-width="1" />
<line x1="389.1" y1="514.6" x2="389.1" y2="519.6" stroke="#606060" stroke-width="1" />
<line x1="409.3" y1="514.6" x2="409.3" y2="519.6" stroke="#606060" stroke-width="1" />
<line x1="421.11" y1="514.6" x2="421.11" y2="519.6" stroke="#606060" stroke-width="1" />
<line x1="429.5" y1="514.6" x2="429.5" y2="519.6" stroke="#606060" stroke-width="1" />
<line x1="436" y1="514.6" x2="436" y2="519.6" stroke="#606060" stroke-width="1" />
<line x1="441.31" y1="514.6" x2="441.31" y2="519.6" stroke="#606060" stroke-width="1" />
<line x1="445.81" y1="514.6" x2="445.81" y2="519.6" stroke="#606060" stroke-width="1" />
<line x1="449.7" y1="514.6" x2="449.7" y2="519.6" stroke="#606060" stroke-width="1" />
<line x1="453.13" y1="514.6" x2="453.13" y2="519.6" stroke="#606060" stroke-width="1" />
<line x1="456.2" y1="514.6" x2="456.2" y2="519.6" stroke="#606060" stroke-width="1" />
<text x="321.2" y="535.3" font-size="12.2" text-anchor="middle" >1</text>
<text x="389" y="535.3" font-size="12.2" text-anchor="middle" >10</text>
<text x="448.2" y="535.3" font-size="12.2">10<tspan font-size="9.6" dy="-5.6">2</tspan></text>
<text x="390" y="552.9" font-size="13" text-anchor="middle">Max eigenvalue (&#923;<tspan font-size="10" dy="2.7">11</tspan><tspan dy="-2.7">=&#923;</tspan><tspan font-size="10" dy="2.7">22</tspan><tspan dy="-2.7">)</tspan></text>
<text transform="translate(283.6,472.3) rotate(-90)" font-size="13.3" text-anchor="middle" >ICA cost (uniform prior)</text>
<clipPath id="cd"><rect x="316.5" y="412.8" width="145.9" height="101.8"/></clipPath>
<g clip-path="url(#cd)">
<polygon points="322,446 325,437.8 370,437.6 457.4,438 457.4,463.7 370,455.4 325,455.5 322,446.5" fill="#b8b8f6" fill-opacity="0.85"/>
<polygon points="322,434 329,437.2 457.4,437.6 457.4,444.5 329,444.5 322,438" fill="#b0eaa8" fill-opacity="0.45"/>
<polygon points="322,424.3 332,426 340,428 345,432 352,444 360,446 366,437 370,434 376,438 386.6,440 395.7,437.5 457.4,438.5 457.4,444.5 395.7,443.5 386.6,450.5 376,459.5 370,456 366,460 360,466 352,467.5 346,464 340,455 332,445 322,436" fill="#fbbdc2" fill-opacity="0.7"/>
<polygon points="322,446 329,469 457.4,469 457.4,469.6 329,469.8 322,455" fill="#b8b8f6" fill-opacity="0.8"/>
<polyline points="322,436.1 329.5,442.8 457.4,442.3" fill="none" stroke="#14e014" stroke-width="2.8" stroke-linejoin="round" stroke-linecap="round" />
<polyline points="321.5,446.3 325,446.9 370,447 457.4,454" fill="none" stroke="#0000c8" stroke-width="2.8" stroke-linejoin="round" stroke-linecap="round" />
<polyline points="322,446.3 322.5,454.4 327.9,467.3 329,469.3 457.4,469.3" fill="none" stroke="#0000c8" stroke-width="2.8" stroke-linejoin="round" stroke-linecap="round" stroke-dasharray="8.1 13.8" stroke-dashoffset="-21.08"/>
<circle cx="457.2" cy="469.3" r="1.5" fill="#0000c8"/>
<polyline points="321.5,431 330,437.5 338,442.2 346,451.3 354,459 362,454 366.5,443.5 375.5,449.8 386.6,446.4 395.7,440.6 420,441.6 450.4,442.2 457.4,440.5" fill="none" stroke="#dd0000" stroke-width="2.8" stroke-linejoin="round" stroke-linecap="round" stroke-dasharray="8.1 13.8" stroke-dashoffset="-1.4"/>
<polygon points="322,496.2 334.7,508 369.5,508 381.9,493.7 389.3,505 396.8,492.5 406.7,496.2 416.6,495 424.1,491.2 430.3,498.7 436.5,488.8 443.9,496.2 450.1,495 456.8,495 456.8,512 436.5,511 416.6,512 396.8,512 389.3,514 381.9,512 369.5,513 334.7,513 322,511.5" fill="#fbbdc2" fill-opacity="0.85"/>
<polyline points="322,504.9 334.7,511.1 369.5,511.1 381.9,504.9 389.3,511.1 396.8,507.4 406.7,506.9 416.6,505.4 424.1,502.4 430.3,507.9 436.5,499.9 443.9,508.6 450.1,505.4 456.8,504.9" fill="none" stroke="#dd0000" stroke-width="2.8" stroke-linejoin="round" stroke-linecap="round" />
</g>
<polyline points="510.4,414.1 555,414.1" fill="none" stroke="#dd0000" stroke-width="2.8" stroke-linejoin="round" stroke-linecap="round" />
<text x="571.3" y="419.4" font-size="14.6" >EGHR-&#946; (&#946;=0)</text>
<polyline points="510.4,447 555,447" fill="none" stroke="#dd0000" stroke-width="2.8" stroke-linejoin="round" stroke-linecap="round" stroke-dasharray="8 11.2" />
<text x="571.3" y="452.3" font-size="14.6" >EGHR-&#946; (&#946;=0.8)</text>
<polyline points="510.4,478.5 555,478.5" fill="none" stroke="#14e014" stroke-width="2.8" stroke-linejoin="round" stroke-linecap="round" />
<text x="571.3" y="483.8" font-size="14.6" >Oja for PCA</text>
<polyline points="510.4,510.2 555,510.2" fill="none" stroke="#0000c8" stroke-width="2.8" stroke-linejoin="round" stroke-linecap="round" />
<text x="571.3" y="515.5" font-size="14.6" >Amari for ICA</text>
<polyline points="510.4,542.6 555,542.6" fill="none" stroke="#0000c8" stroke-width="2.8" stroke-linejoin="round" stroke-linecap="round" stroke-dasharray="8 11.2" />
<text x="571.3" y="547.9" font-size="14.6" >Oja</text>
<polyline points="594.5,542.8 607.5,542.8" fill="none" stroke="#111" stroke-width="1" stroke-linejoin="round" stroke-linecap="round" stroke-linecap="butt"/>
<path d="M604.6 540.2 L608.6 542.8 L604.6 545.4" fill="none" stroke="#111" stroke-width="1"/>
<text x="608.3" y="547.9" font-size="14.6" >Amari</text>
</svg></body></html>
